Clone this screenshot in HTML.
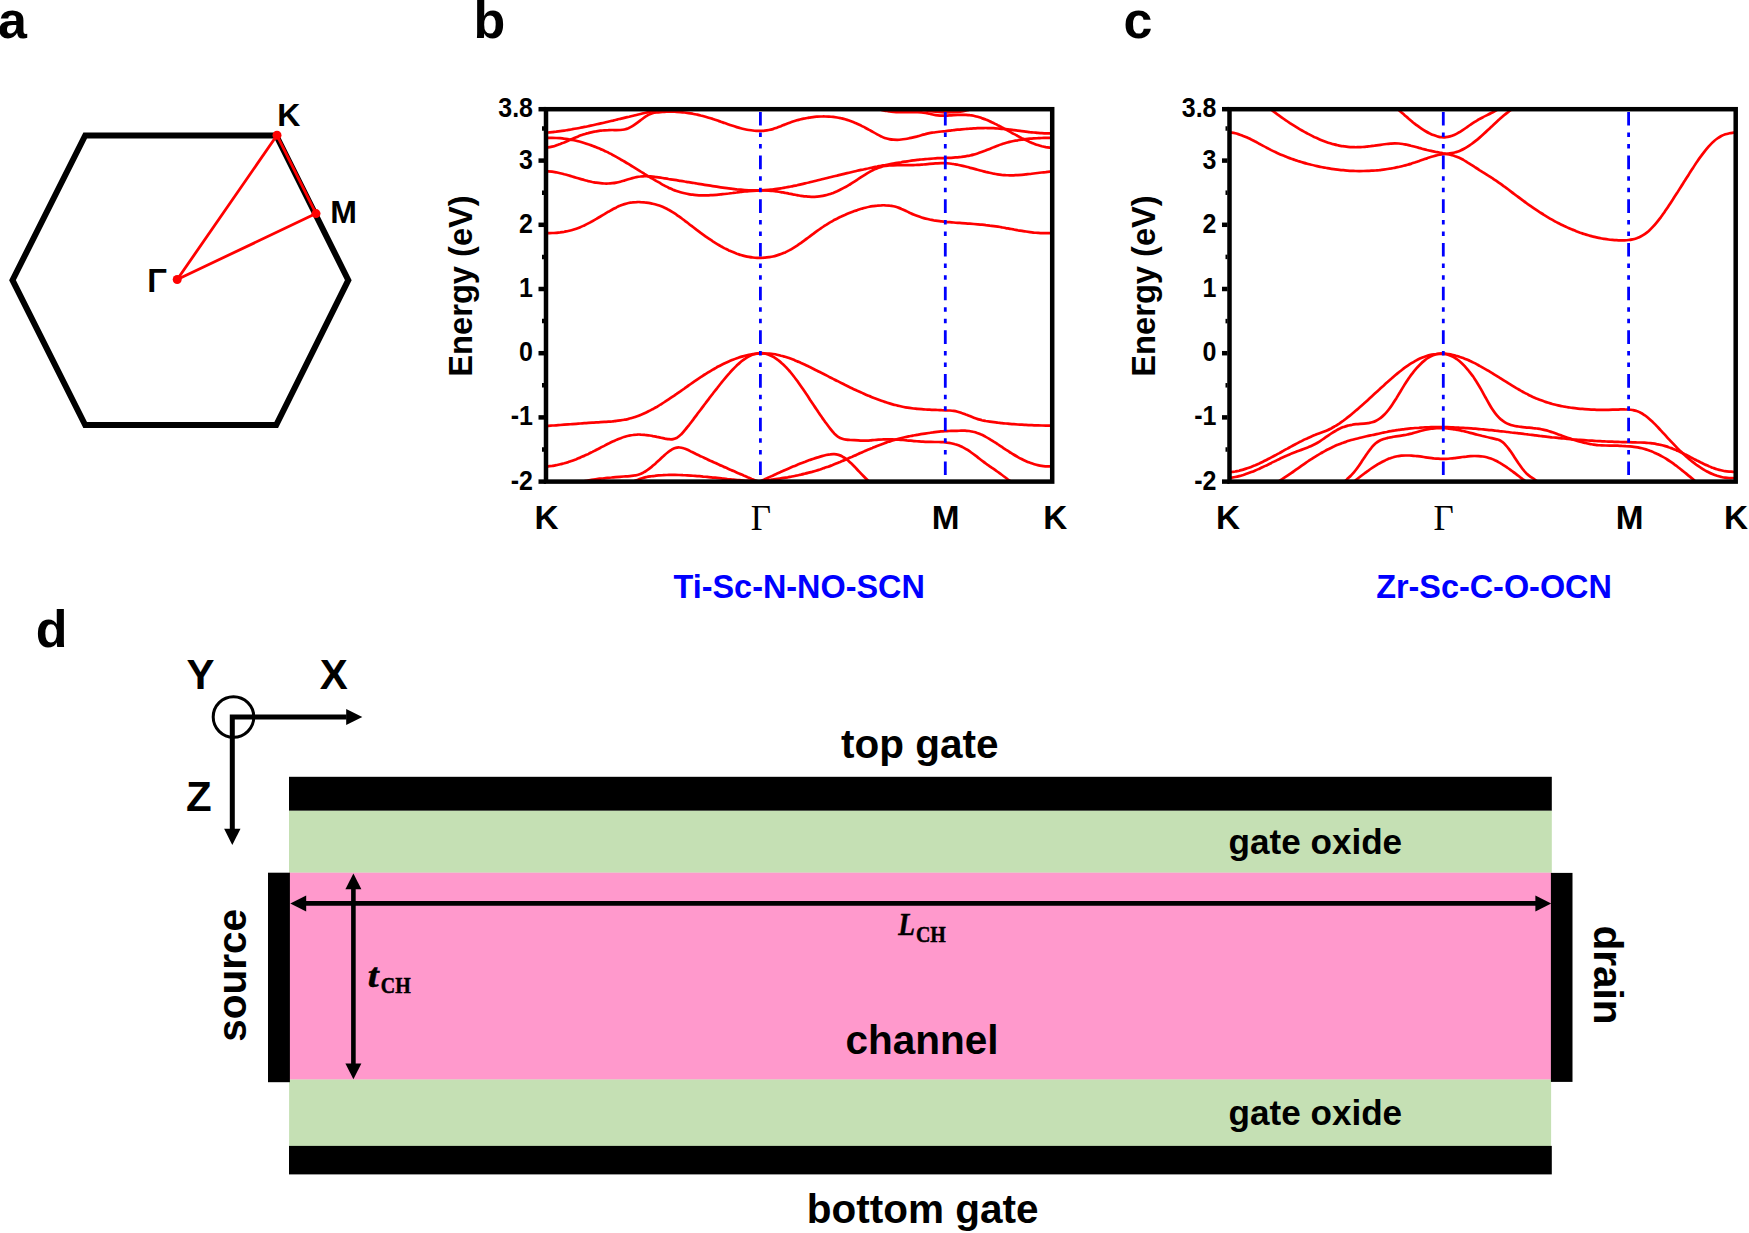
<!DOCTYPE html>
<html lang="en"><head><meta charset="utf-8"><title>Figure</title>
<style>
html,body{margin:0;padding:0;background:#fff;}
body{width:1749px;height:1233px;overflow:hidden;}
svg{display:block;}
text{font-family:"Liberation Sans", Arial, Helvetica, sans-serif;font-weight:bold;fill:#000;}
.ser{font-family:"Liberation Serif", "Times New Roman", Times, serif;}
.band{fill:none;stroke:#ff0000;stroke-width:2.7;stroke-linecap:round;stroke-linejoin:round;}
.hs{fill:none;stroke:#0000ff;stroke-width:2.8;stroke-dasharray:13.6 7.03 4.5 7.03 4.5 7.03;}
.fr{fill:none;stroke:#000;stroke-width:4.5;}
.tk{stroke:#000;stroke-width:4.5;}
.tl{font-size:25px;text-anchor:end;}
.kl{font-size:33.3px;text-anchor:middle;}
.cap{font-size:32.4px;text-anchor:middle;fill:#0000ff;}
.pl{font-size:52px;}
.dl{font-size:40.5px;text-anchor:middle;}
</style></head><body>
<svg width="1749" height="1233" viewBox="0 0 1749 1233">
<rect width="1749" height="1233" fill="#fff"/>
<text class="pl" x="-2" y="38">a</text>
<text class="pl" x="473.5" y="38">b</text>
<text class="pl" x="1123.6" y="38">c</text>
<text class="pl" x="35.8" y="646.5">d</text>
<polygon points="85.2,135.4 276.2,135.4 348.3,280.2 276.2,425.0 85.2,425.0 12.5,280.2" fill="none" stroke="#000" stroke-width="6" stroke-linejoin="miter"/>
<g stroke="#ff0000" stroke-width="2.8" fill="none" stroke-linecap="round">
<line x1="177.2" y1="279.5" x2="277.0" y2="135.3"/>
<line x1="177.2" y1="279.5" x2="316.0" y2="213.6"/>
<line x1="277.0" y1="135.3" x2="316.0" y2="213.6"/>
</g>
<circle cx="177.2" cy="279.5" r="4.5" fill="#ff0000"/>
<circle cx="277.0" cy="135.3" r="4.5" fill="#ff0000"/>
<circle cx="316.0" cy="213.6" r="4.5" fill="#ff0000"/>
<text x="277.2" y="126" font-size="32">K</text>
<text x="330.2" y="223.3" font-size="32">M</text>
<text x="147.2" y="292.3" font-size="32.5">Γ</text>
<clipPath id="cb"><rect x="546.0" y="109.2" width="506.2" height="372.4"/></clipPath>
<g clip-path="url(#cb)">
<path class="band" d="M548.2 233.2C548.8 233.2 550.8 233.1 552.2 233.0C553.5 233.0 554.9 232.9 556.2 232.8C557.5 232.7 558.9 232.5 560.2 232.4C561.6 232.2 562.9 232.0 564.2 231.8C565.6 231.5 566.9 231.3 568.2 231.0C569.6 230.7 570.9 230.4 572.3 230.0C573.6 229.6 574.9 229.2 576.3 228.7C577.6 228.3 579.0 227.8 580.3 227.2C581.6 226.7 583.0 226.0 584.3 225.4C585.6 224.8 587.0 224.1 588.3 223.4C589.7 222.7 591.0 221.9 592.3 221.2C593.7 220.4 595.0 219.6 596.4 218.9C597.7 218.1 599.0 217.3 600.4 216.5C601.7 215.7 603.0 214.9 604.4 214.1C605.7 213.3 607.1 212.5 608.4 211.7C609.7 211.0 611.1 210.2 612.4 209.5C613.8 208.8 615.1 208.0 616.4 207.4C617.8 206.7 619.1 206.1 620.4 205.6C621.8 205.0 623.1 204.5 624.5 204.1C625.8 203.7 627.1 203.3 628.5 203.0C629.8 202.7 631.1 202.5 632.5 202.4C633.8 202.2 635.2 202.1 636.5 202.1C637.8 202.0 639.2 202.0 640.5 202.1C641.9 202.1 643.2 202.2 644.5 202.4C645.9 202.5 647.2 202.7 648.5 202.9C649.9 203.1 651.2 203.4 652.6 203.7C653.9 204.0 655.2 204.3 656.6 204.7C657.9 205.1 659.3 205.5 660.6 206.0C661.9 206.5 663.3 207.1 664.6 207.7C665.9 208.3 667.3 209.0 668.6 209.8C670.0 210.5 671.3 211.3 672.6 212.1C674.0 213.0 675.3 213.9 676.7 214.8C678.0 215.7 679.3 216.7 680.7 217.7C682.0 218.6 683.3 219.7 684.7 220.7C686.0 221.7 687.4 222.7 688.7 223.7C690.0 224.8 691.4 225.8 692.7 226.8C694.1 227.9 695.4 228.9 696.7 229.9C698.1 230.9 699.4 231.9 700.7 232.9C702.1 233.9 703.4 234.8 704.8 235.8C706.1 236.7 707.4 237.7 708.8 238.6C710.1 239.5 711.5 240.4 712.8 241.3C714.1 242.1 715.5 243.0 716.8 243.8C718.1 244.6 719.5 245.4 720.8 246.2C722.2 246.9 723.5 247.7 724.8 248.4C726.2 249.1 727.5 249.7 728.8 250.4C730.2 251.0 731.5 251.6 732.9 252.1C734.2 252.7 735.5 253.2 736.9 253.7C738.2 254.1 739.6 254.6 740.9 255.0C742.2 255.4 743.6 255.8 744.9 256.1C746.2 256.4 747.6 256.7 748.9 256.9C750.3 257.2 751.6 257.4 752.9 257.5C754.3 257.7 755.6 257.8 757.0 257.8C758.3 257.9 759.6 257.9 761.0 257.9C762.3 257.9 763.6 257.8 765.0 257.7C766.3 257.6 767.7 257.4 769.0 257.2C770.3 257.0 771.7 256.8 773.0 256.5C774.4 256.2 775.7 255.8 777.0 255.4C778.4 255.0 779.7 254.6 781.0 254.1C782.4 253.6 783.7 253.0 785.1 252.4C786.4 251.8 787.7 251.1 789.1 250.4C790.4 249.7 791.8 248.9 793.1 248.1C794.4 247.3 795.8 246.4 797.1 245.6C798.4 244.7 799.8 243.7 801.1 242.8C802.5 241.8 803.8 240.9 805.1 239.9C806.5 238.9 807.8 237.9 809.2 236.9C810.5 235.9 811.8 234.9 813.2 233.9C814.5 232.9 815.8 231.9 817.2 230.9C818.5 230.0 819.9 229.0 821.2 228.1C822.5 227.2 823.9 226.3 825.2 225.4C826.6 224.6 827.9 223.7 829.2 222.9C830.6 222.1 831.9 221.4 833.2 220.6C834.6 219.9 835.9 219.2 837.3 218.5C838.6 217.8 839.9 217.1 841.3 216.5C842.6 215.9 843.9 215.3 845.3 214.7C846.6 214.1 848.0 213.5 849.3 213.0C850.6 212.5 852.0 212.0 853.3 211.5C854.7 211.0 856.0 210.5 857.3 210.1C858.7 209.6 860.0 209.2 861.3 208.8C862.7 208.4 864.0 208.0 865.4 207.7C866.7 207.4 868.0 207.1 869.4 206.8C870.7 206.5 872.1 206.3 873.4 206.1C874.7 205.9 876.1 205.7 877.4 205.6C878.7 205.4 880.1 205.3 881.4 205.3C882.8 205.2 884.1 205.2 885.4 205.3C886.8 205.3 888.1 205.4 889.5 205.6C890.8 205.7 892.1 205.9 893.5 206.2C894.8 206.5 896.1 206.9 897.5 207.3C898.8 207.8 900.2 208.3 901.5 208.9C902.8 209.4 904.2 210.1 905.5 210.7C906.9 211.4 908.2 212.0 909.5 212.7C910.9 213.3 912.2 214.0 913.5 214.5C914.9 215.1 916.2 215.6 917.6 216.1C918.9 216.6 920.2 217.1 921.6 217.5C922.9 217.9 924.3 218.3 925.6 218.6C926.9 218.9 928.3 219.2 929.6 219.5C930.9 219.8 932.3 220.0 933.6 220.3C935.0 220.5 936.3 220.7 937.6 220.9C939.0 221.1 940.3 221.2 941.7 221.4C943.0 221.6 944.3 221.7 945.7 221.8C947.0 222.0 948.3 222.1 949.7 222.2C951.0 222.3 952.4 222.4 953.7 222.5C955.0 222.7 956.4 222.8 957.7 222.8C959.0 222.9 960.4 223.0 961.7 223.1C963.1 223.2 964.4 223.3 965.7 223.4C967.1 223.5 968.4 223.6 969.8 223.7C971.1 223.8 972.4 223.9 973.8 224.0C975.1 224.1 976.4 224.2 977.8 224.3C979.1 224.4 980.5 224.5 981.8 224.7C983.1 224.8 984.5 224.9 985.8 225.1C987.2 225.2 988.5 225.4 989.8 225.6C991.2 225.7 992.5 225.9 993.8 226.1C995.2 226.3 996.5 226.5 997.9 226.7C999.2 226.9 1000.5 227.1 1001.9 227.4C1003.2 227.6 1004.6 227.8 1005.9 228.1C1007.2 228.3 1008.6 228.6 1009.9 228.8C1011.2 229.1 1012.6 229.3 1013.9 229.5C1015.3 229.8 1016.6 230.0 1017.9 230.3C1019.3 230.5 1020.6 230.7 1022.0 230.9C1023.3 231.1 1024.6 231.4 1026.0 231.5C1027.3 231.7 1028.6 231.9 1030.0 232.1C1031.3 232.3 1032.7 232.4 1034.0 232.6C1035.3 232.7 1036.7 232.8 1038.0 232.9C1039.4 233.0 1040.7 233.1 1042.0 233.1C1043.4 233.2 1044.7 233.2 1046.0 233.2C1047.4 233.2 1049.4 233.1 1050.1 233.1"/>
<path class="band" d="M548.1 171.3C548.8 171.3 550.8 171.5 552.1 171.7C553.5 171.9 554.8 172.1 556.1 172.3C557.5 172.6 558.8 172.9 560.2 173.2C561.5 173.5 562.8 173.8 564.2 174.2C565.5 174.5 566.8 174.9 568.2 175.3C569.5 175.7 570.9 176.1 572.2 176.5C573.5 176.9 574.9 177.3 576.2 177.7C577.5 178.1 578.9 178.5 580.2 178.9C581.6 179.3 582.9 179.6 584.2 180.0C585.6 180.4 586.9 180.7 588.2 181.1C589.6 181.4 590.9 181.7 592.3 182.0C593.6 182.2 594.9 182.5 596.3 182.7C597.6 182.9 598.9 183.1 600.3 183.2C601.6 183.4 603.0 183.5 604.3 183.5C605.6 183.6 607.0 183.6 608.3 183.5C609.6 183.5 611.0 183.4 612.3 183.2C613.7 183.1 615.0 182.9 616.3 182.6C617.7 182.4 619.0 182.1 620.3 181.7C621.7 181.4 623.0 181.0 624.4 180.6C625.7 180.2 627.0 179.7 628.4 179.3C629.7 178.9 631.1 178.5 632.4 178.1C633.7 177.7 635.1 177.4 636.4 177.1C637.7 176.8 639.1 176.6 640.4 176.5C641.8 176.3 643.1 176.3 644.4 176.2C645.8 176.2 647.1 176.3 648.4 176.3C649.8 176.4 651.1 176.5 652.5 176.6C653.8 176.8 655.1 176.9 656.5 177.1C657.8 177.3 659.1 177.5 660.5 177.7C661.8 177.9 663.2 178.1 664.5 178.3C665.8 178.5 667.2 178.7 668.5 179.0C669.8 179.2 671.2 179.4 672.5 179.6C673.9 179.8 675.2 180.0 676.5 180.2C677.9 180.4 679.2 180.7 680.5 180.9C681.9 181.1 683.2 181.3 684.6 181.5C685.9 181.7 687.2 182.0 688.6 182.2C689.9 182.4 691.2 182.6 692.6 182.8C693.9 183.1 695.3 183.3 696.6 183.5C697.9 183.7 699.3 183.9 700.6 184.1C702.0 184.4 703.3 184.6 704.6 184.8C706.0 185.0 707.3 185.2 708.6 185.4C710.0 185.7 711.3 185.9 712.7 186.1C714.0 186.3 715.3 186.5 716.7 186.7C718.0 186.9 719.3 187.1 720.7 187.3C722.0 187.5 723.4 187.7 724.7 187.9C726.0 188.1 727.4 188.3 728.7 188.4C730.0 188.6 731.4 188.8 732.7 188.9C734.1 189.1 735.4 189.2 736.7 189.4C738.1 189.5 739.4 189.6 740.7 189.7C742.1 189.9 743.4 190.0 744.8 190.0C746.1 190.1 747.4 190.2 748.8 190.3C750.1 190.3 751.4 190.4 752.8 190.4C754.1 190.4 755.5 190.4 756.8 190.4C758.1 190.4 759.5 190.4 760.8 190.3C762.1 190.3 763.5 190.2 764.8 190.1C766.2 190.0 767.5 189.9 768.8 189.8C770.2 189.7 771.5 189.5 772.9 189.4C774.2 189.2 775.5 189.1 776.9 188.9C778.2 188.7 779.5 188.5 780.9 188.3C782.2 188.1 783.6 187.9 784.9 187.6C786.2 187.4 787.6 187.2 788.9 186.9C790.2 186.6 791.6 186.4 792.9 186.1C794.3 185.8 795.6 185.5 796.9 185.3C798.3 185.0 799.6 184.7 800.9 184.4C802.3 184.1 803.6 183.8 805.0 183.4C806.3 183.1 807.6 182.8 809.0 182.5C810.3 182.2 811.6 181.8 813.0 181.5C814.3 181.2 815.7 180.8 817.0 180.5C818.3 180.2 819.7 179.8 821.0 179.5C822.3 179.2 823.7 178.8 825.0 178.5C826.4 178.2 827.7 177.9 829.0 177.5C830.4 177.2 831.7 176.9 833.1 176.5C834.4 176.2 835.7 175.9 837.1 175.6C838.4 175.2 839.7 174.9 841.1 174.6C842.4 174.3 843.8 173.9 845.1 173.6C846.4 173.3 847.8 173.0 849.1 172.7C850.4 172.4 851.8 172.1 853.1 171.8C854.5 171.5 855.8 171.1 857.1 170.8C858.5 170.5 859.8 170.2 861.1 169.9C862.5 169.7 863.8 169.4 865.2 169.1C866.5 168.8 867.8 168.5 869.2 168.2C870.5 167.9 871.8 167.7 873.2 167.4C874.5 167.1 875.9 166.8 877.2 166.6C878.5 166.3 879.9 166.1 881.2 165.8C882.5 165.6 883.9 165.3 885.2 165.1C886.6 164.8 887.9 164.6 889.2 164.3C890.6 164.1 891.9 163.9 893.2 163.6C894.6 163.4 895.9 163.2 897.3 162.9C898.6 162.7 899.9 162.5 901.3 162.3C902.6 162.0 904.0 161.8 905.3 161.6C906.6 161.4 908.0 161.2 909.3 161.0C910.6 160.8 912.0 160.6 913.3 160.4C914.7 160.2 916.0 160.0 917.3 159.9C918.7 159.8 920.0 159.6 921.3 159.5C922.7 159.4 924.0 159.3 925.4 159.2C926.7 159.1 928.0 158.9 929.4 158.8C930.7 158.7 932.0 158.6 933.4 158.5C934.7 158.4 936.1 158.3 937.4 158.2C938.7 158.2 940.1 158.1 941.4 158.1C942.7 158.1 944.1 158.0 945.4 158.0C946.8 157.9 948.1 157.9 949.4 157.8C950.8 157.8 952.1 157.7 953.4 157.6C954.8 157.5 956.1 157.4 957.5 157.3C958.8 157.2 960.1 157.0 961.5 156.9C962.8 156.7 964.1 156.5 965.5 156.3C966.8 156.1 968.2 155.8 969.5 155.6C970.8 155.3 972.2 155.0 973.5 154.6C974.9 154.3 976.2 153.9 977.5 153.5C978.9 153.1 980.2 152.6 981.5 152.1C982.9 151.6 984.2 151.1 985.6 150.6C986.9 150.0 988.2 149.5 989.6 148.9C990.9 148.4 992.2 147.8 993.6 147.3C994.9 146.8 996.3 146.2 997.6 145.7C998.9 145.2 1000.3 144.7 1001.6 144.3C1002.9 143.8 1004.3 143.4 1005.6 143.0C1007.0 142.6 1008.3 142.3 1009.6 141.9C1011.0 141.6 1012.3 141.3 1013.6 141.0C1015.0 140.7 1016.3 140.5 1017.7 140.3C1019.0 140.0 1020.3 139.8 1021.7 139.6C1023.0 139.4 1024.3 139.3 1025.7 139.1C1027.0 139.0 1028.4 138.8 1029.7 138.7C1031.0 138.6 1032.4 138.5 1033.7 138.4C1035.0 138.3 1036.4 138.2 1037.7 138.2C1039.1 138.1 1040.4 138.1 1041.7 138.0C1043.1 138.0 1044.4 137.9 1045.8 137.9C1047.1 137.8 1049.1 137.8 1049.8 137.8"/>
<path class="band" d="M548.1 137.9C548.8 137.9 550.8 137.8 552.1 137.8C553.5 137.8 554.8 137.9 556.1 138.0C557.5 138.0 558.8 138.1 560.2 138.2C561.5 138.4 562.8 138.5 564.2 138.7C565.5 138.8 566.8 139.0 568.2 139.2C569.5 139.5 570.9 139.7 572.2 140.0C573.5 140.2 574.9 140.5 576.2 140.8C577.5 141.1 578.9 141.5 580.2 141.8C581.6 142.2 582.9 142.6 584.2 143.0C585.6 143.4 586.9 143.8 588.2 144.3C589.6 144.7 590.9 145.2 592.3 145.7C593.6 146.2 594.9 146.7 596.3 147.2C597.6 147.8 598.9 148.3 600.3 148.9C601.6 149.5 603.0 150.1 604.3 150.7C605.6 151.3 607.0 152.0 608.3 152.6C609.6 153.3 611.0 154.0 612.3 154.7C613.7 155.4 615.0 156.1 616.3 156.9C617.7 157.6 619.0 158.4 620.3 159.2C621.7 159.9 623.0 160.7 624.4 161.5C625.7 162.3 627.0 163.1 628.4 163.9C629.7 164.8 631.1 165.6 632.4 166.4C633.7 167.2 635.1 168.1 636.4 168.9C637.7 169.7 639.1 170.6 640.4 171.4C641.8 172.2 643.1 173.1 644.4 173.9C645.8 174.7 647.1 175.5 648.4 176.3C649.8 177.1 651.1 177.9 652.5 178.7C653.8 179.5 655.1 180.3 656.5 181.1C657.8 181.8 659.1 182.6 660.5 183.3C661.8 184.1 663.2 184.9 664.5 185.6C665.8 186.3 667.2 187.0 668.5 187.7C669.8 188.3 671.2 188.9 672.5 189.5C673.9 190.1 675.2 190.6 676.5 191.0C677.9 191.5 679.2 191.9 680.5 192.3C681.9 192.7 683.2 193.0 684.6 193.3C685.9 193.6 687.2 193.9 688.6 194.1C689.9 194.4 691.2 194.5 692.6 194.7C693.9 194.9 695.3 195.0 696.6 195.1C697.9 195.2 699.3 195.3 700.6 195.3C702.0 195.3 703.3 195.4 704.6 195.4C706.0 195.3 707.3 195.3 708.6 195.3C710.0 195.2 711.3 195.2 712.7 195.1C714.0 195.0 715.3 194.9 716.7 194.8C718.0 194.7 719.3 194.5 720.7 194.4C722.0 194.3 723.4 194.1 724.7 194.0C726.0 193.8 727.4 193.6 728.7 193.5C730.0 193.3 731.4 193.1 732.7 193.0C734.1 192.8 735.4 192.6 736.7 192.5C738.1 192.3 739.4 192.1 740.7 192.0C742.1 191.8 743.4 191.7 744.8 191.5C746.1 191.4 747.4 191.3 748.8 191.1C750.1 191.0 751.4 190.9 752.8 190.8C754.1 190.7 755.5 190.6 756.8 190.6C758.1 190.5 759.5 190.5 760.8 190.5C762.1 190.4 763.5 190.4 764.8 190.5C766.2 190.5 767.5 190.5 768.8 190.6C770.2 190.7 771.5 190.8 772.9 191.0C774.2 191.1 775.5 191.3 776.9 191.4C778.2 191.6 779.5 191.9 780.9 192.1C782.2 192.3 783.6 192.6 784.9 192.8C786.2 193.1 787.6 193.3 788.9 193.6C790.2 193.8 791.6 194.1 792.9 194.4C794.3 194.6 795.6 194.9 796.9 195.1C798.3 195.3 799.6 195.6 800.9 195.8C802.3 196.0 803.6 196.1 805.0 196.3C806.3 196.4 807.6 196.6 809.0 196.6C810.3 196.7 811.6 196.8 813.0 196.8C814.3 196.8 815.7 196.7 817.0 196.6C818.3 196.5 819.7 196.4 821.0 196.2C822.3 196.0 823.7 195.7 825.0 195.4C826.4 195.1 827.7 194.7 829.0 194.3C830.4 193.9 831.7 193.4 833.1 192.9C834.4 192.4 835.7 191.9 837.1 191.3C838.4 190.7 839.7 190.0 841.1 189.3C842.4 188.7 843.8 188.0 845.1 187.2C846.4 186.5 847.8 185.7 849.1 184.9C850.4 184.1 851.8 183.3 853.1 182.4C854.5 181.6 855.8 180.7 857.1 179.8C858.5 179.0 859.8 178.1 861.1 177.2C862.5 176.3 863.8 175.5 865.2 174.6C866.5 173.8 867.8 173.0 869.2 172.2C870.5 171.4 871.8 170.7 873.2 170.0C874.5 169.4 875.9 168.8 877.2 168.2C878.5 167.7 879.9 167.3 881.2 166.9C882.5 166.5 883.9 166.2 885.2 166.0C886.6 165.8 887.9 165.6 889.2 165.5C890.6 165.4 891.9 165.3 893.2 165.3C894.6 165.2 895.9 165.2 897.3 165.2C898.6 165.2 899.9 165.2 901.3 165.2C902.6 165.2 904.0 165.2 905.3 165.2C906.6 165.2 908.0 165.2 909.3 165.2C910.6 165.2 912.0 165.1 913.3 165.1C914.7 165.0 916.0 165.0 917.3 164.9C918.7 164.8 920.0 164.8 921.3 164.7C922.7 164.6 924.0 164.4 925.4 164.3C926.7 164.2 928.0 164.1 929.4 163.9C930.7 163.8 932.0 163.7 933.4 163.6C934.7 163.5 936.1 163.4 937.4 163.3C938.7 163.2 940.1 163.2 941.4 163.2C942.7 163.2 944.1 163.2 945.4 163.2C946.8 163.3 948.1 163.4 949.4 163.5C950.8 163.7 952.1 163.8 953.4 164.0C954.8 164.2 956.1 164.5 957.5 164.7C958.8 165.0 960.1 165.3 961.5 165.6C962.8 165.9 964.1 166.2 965.5 166.5C966.8 166.9 968.2 167.2 969.5 167.6C970.8 167.9 972.2 168.3 973.5 168.6C974.9 169.0 976.2 169.4 977.5 169.7C978.9 170.1 980.2 170.5 981.5 170.8C982.9 171.2 984.2 171.5 985.6 171.9C986.9 172.2 988.2 172.5 989.6 172.8C990.9 173.1 992.2 173.4 993.6 173.7C994.9 173.9 996.3 174.1 997.6 174.3C998.9 174.5 1000.3 174.7 1001.6 174.9C1002.9 175.0 1004.3 175.1 1005.6 175.2C1007.0 175.2 1008.3 175.3 1009.6 175.3C1011.0 175.3 1012.3 175.3 1013.6 175.3C1015.0 175.2 1016.3 175.2 1017.7 175.1C1019.0 175.0 1020.3 174.9 1021.7 174.8C1023.0 174.7 1024.3 174.6 1025.7 174.4C1027.0 174.3 1028.4 174.1 1029.7 174.0C1031.0 173.8 1032.4 173.7 1033.7 173.5C1035.0 173.4 1036.4 173.2 1037.7 173.0C1039.1 172.9 1040.4 172.7 1041.7 172.5C1043.1 172.4 1044.4 172.2 1045.8 172.1C1047.1 171.9 1049.1 171.7 1049.8 171.7"/>
<path class="band" d="M548.1 147.4C548.8 147.3 550.8 146.9 552.1 146.6C553.5 146.3 554.8 145.9 556.1 145.4C557.5 145.0 558.8 144.5 560.2 144.0C561.5 143.5 562.8 142.9 564.2 142.4C565.5 141.8 566.8 141.2 568.2 140.7C569.5 140.1 570.9 139.5 572.2 138.9C573.5 138.3 574.9 137.7 576.2 137.2C577.5 136.7 578.9 136.1 580.2 135.6C581.6 135.1 582.9 134.7 584.2 134.2C585.6 133.8 586.9 133.4 588.2 133.1C589.6 132.7 590.9 132.4 592.3 132.1C593.6 131.8 594.9 131.6 596.3 131.3C597.6 131.1 598.9 130.9 600.3 130.7C601.6 130.6 603.0 130.4 604.3 130.3C605.6 130.2 607.0 130.1 608.3 130.1C609.6 130.0 611.0 130.0 612.3 130.0C613.7 130.0 615.0 130.1 616.3 130.1C617.7 130.1 619.0 130.1 620.3 130.0C621.7 129.9 623.0 129.8 624.4 129.5C625.7 129.2 627.0 128.9 628.4 128.3C629.7 127.7 631.1 127.0 632.4 126.2C633.7 125.4 635.1 124.4 636.4 123.4C637.7 122.5 639.1 121.4 640.4 120.4C641.8 119.4 643.1 118.3 644.4 117.4C645.8 116.5 647.1 115.6 648.4 114.9C649.8 114.2 651.1 113.7 652.5 113.3C653.8 112.9 655.1 112.7 656.5 112.5C657.8 112.3 659.1 112.2 660.5 112.1C661.8 112.0 663.2 111.9 664.5 111.8C665.8 111.8 667.2 111.7 668.5 111.7C669.8 111.7 671.2 111.7 672.5 111.7C673.9 111.7 675.2 111.8 676.5 111.8C677.9 111.9 679.2 112.0 680.5 112.1C681.9 112.2 683.2 112.4 684.6 112.5C685.9 112.7 687.2 112.9 688.6 113.1C689.9 113.3 691.2 113.5 692.6 113.7C693.9 114.0 695.3 114.3 696.6 114.5C697.9 114.8 699.3 115.1 700.6 115.5C702.0 115.8 703.3 116.1 704.6 116.5C706.0 116.9 707.3 117.3 708.6 117.7C710.0 118.1 711.3 118.5 712.7 118.9C714.0 119.4 715.3 119.8 716.7 120.3C718.0 120.8 719.3 121.2 720.7 121.7C722.0 122.2 723.4 122.6 724.7 123.1C726.0 123.6 727.4 124.0 728.7 124.5C730.0 125.0 731.4 125.4 732.7 125.8C734.1 126.3 735.4 126.7 736.7 127.1C738.1 127.5 739.4 127.9 740.7 128.2C742.1 128.6 743.4 128.9 744.8 129.2C746.1 129.5 747.4 129.8 748.8 130.0C750.1 130.2 751.4 130.4 752.8 130.5C754.1 130.7 755.5 130.8 756.8 130.9C758.1 130.9 759.5 130.9 760.8 130.9C762.1 130.9 763.5 130.8 764.8 130.6C766.2 130.5 767.5 130.3 768.8 130.0C770.2 129.8 771.5 129.5 772.9 129.1C774.2 128.7 775.5 128.2 776.9 127.7C778.2 127.3 779.5 126.7 780.9 126.2C782.2 125.6 783.6 125.1 784.9 124.5C786.2 124.0 787.6 123.4 788.9 122.9C790.2 122.4 791.6 122.0 792.9 121.5C794.3 121.1 795.6 120.7 796.9 120.3C798.3 119.9 799.6 119.6 800.9 119.2C802.3 118.9 803.6 118.6 805.0 118.4C806.3 118.1 807.6 117.9 809.0 117.6C810.3 117.4 811.6 117.3 813.0 117.1C814.3 116.9 815.7 116.8 817.0 116.7C818.3 116.6 819.7 116.5 821.0 116.5C822.3 116.5 823.7 116.4 825.0 116.5C826.4 116.5 827.7 116.5 829.0 116.6C830.4 116.7 831.7 116.8 833.1 116.9C834.4 117.1 835.7 117.3 837.1 117.5C838.4 117.7 839.7 118.0 841.1 118.3C842.4 118.6 843.8 118.9 845.1 119.3C846.4 119.7 847.8 120.1 849.1 120.5C850.4 121.0 851.8 121.5 853.1 122.0C854.5 122.6 855.8 123.1 857.1 123.7C858.5 124.4 859.8 125.0 861.1 125.6C862.5 126.3 863.8 127.0 865.2 127.7C866.5 128.4 867.8 129.1 869.2 129.9C870.5 130.6 871.8 131.4 873.2 132.1C874.5 132.8 875.9 133.6 877.2 134.4C878.5 135.1 879.9 135.8 881.2 136.4C882.5 137.1 883.9 137.6 885.2 138.1C886.6 138.5 887.9 138.9 889.2 139.1C890.6 139.4 891.9 139.6 893.2 139.7C894.6 139.8 895.9 139.8 897.3 139.8C898.6 139.8 899.9 139.7 901.3 139.5C902.6 139.4 904.0 139.2 905.3 139.0C906.6 138.8 908.0 138.5 909.3 138.2C910.6 138.0 912.0 137.7 913.3 137.4C914.7 137.1 916.0 136.7 917.3 136.4C918.7 136.0 920.0 135.6 921.3 135.2C922.7 134.9 924.0 134.4 925.4 134.1C926.7 133.7 928.0 133.4 929.4 133.1C930.7 132.8 932.0 132.7 933.4 132.5C934.7 132.3 936.1 132.2 937.4 132.0C938.7 131.9 940.1 131.7 941.4 131.5C942.7 131.4 944.1 131.2 945.4 131.1C946.8 130.9 948.1 130.8 949.4 130.6C950.8 130.5 952.1 130.3 953.4 130.2C954.8 130.0 956.1 129.9 957.5 129.7C958.8 129.6 960.1 129.5 961.5 129.3C962.8 129.2 964.1 129.1 965.5 129.0C966.8 128.9 968.2 128.7 969.5 128.7C970.8 128.6 972.2 128.5 973.5 128.4C974.9 128.3 976.2 128.3 977.5 128.2C978.9 128.2 980.2 128.1 981.5 128.1C982.9 128.1 984.2 128.0 985.6 128.0C986.9 128.0 988.2 128.1 989.6 128.1C990.9 128.1 992.2 128.2 993.6 128.2C994.9 128.3 996.3 128.4 997.6 128.5C998.9 128.6 1000.3 128.7 1001.6 128.8C1002.9 128.9 1004.3 129.1 1005.6 129.2C1007.0 129.3 1008.3 129.5 1009.6 129.6C1011.0 129.8 1012.3 130.0 1013.6 130.1C1015.0 130.3 1016.3 130.5 1017.7 130.6C1019.0 130.8 1020.3 131.0 1021.7 131.1C1023.0 131.3 1024.3 131.5 1025.7 131.6C1027.0 131.8 1028.4 131.9 1029.7 132.1C1031.0 132.2 1032.4 132.4 1033.7 132.5C1035.0 132.6 1036.4 132.8 1037.7 132.9C1039.1 133.0 1040.4 133.1 1041.7 133.1C1043.1 133.2 1044.4 133.3 1045.8 133.3C1047.1 133.4 1049.1 133.4 1049.8 133.4"/>
<path class="band" d="M548.1 132.5C548.8 132.5 550.8 132.3 552.2 132.1C553.5 132.0 554.9 131.8 556.2 131.7C557.6 131.5 558.9 131.3 560.3 131.1C561.6 131.0 563.0 130.8 564.3 130.6C565.7 130.4 567.0 130.1 568.4 129.9C569.7 129.7 571.1 129.5 572.4 129.2C573.8 129.0 575.1 128.8 576.5 128.5C577.8 128.3 579.2 128.0 580.6 127.7C581.9 127.5 583.3 127.2 584.6 126.9C586.0 126.7 587.3 126.4 588.7 126.1C590.0 125.8 591.4 125.5 592.7 125.2C594.1 124.9 595.4 124.6 596.8 124.3C598.1 124.0 599.5 123.7 600.8 123.4C602.2 123.1 603.5 122.8 604.9 122.5C606.2 122.2 607.6 121.8 608.9 121.5C610.3 121.2 611.6 120.9 613.0 120.6C614.3 120.2 615.7 119.9 617.0 119.6C618.4 119.3 619.8 118.9 621.1 118.6C622.5 118.3 623.8 118.0 625.2 117.6C626.5 117.3 627.9 117.0 629.2 116.7C630.6 116.3 631.9 116.0 633.3 115.7C634.6 115.4 636.0 115.0 637.3 114.7C638.7 114.4 640.0 114.1 641.4 113.8C642.7 113.5 644.1 113.1 645.4 112.8C646.8 112.5 648.1 112.2 649.5 111.9C650.8 111.6 652.2 111.3 653.5 111.0C654.9 110.7 656.2 110.5 657.6 110.2C659.0 109.9 660.3 109.6 661.7 109.3C663.0 109.1 665.0 108.7 665.7 108.6"/>
<path class="band" d="M877.6 108.7C878.3 108.9 880.3 109.6 881.6 109.9C882.9 110.3 884.3 110.6 885.6 110.8C886.9 111.1 888.3 111.3 889.6 111.5C891.0 111.7 892.3 111.8 893.6 111.9C895.0 112.0 896.3 112.1 897.6 112.1C899.0 112.2 900.3 112.2 901.6 112.2C903.0 112.2 904.3 112.2 905.6 112.2C907.0 112.2 908.3 112.2 909.6 112.2C911.0 112.2 912.3 112.1 913.6 112.1C915.0 112.1 916.3 112.1 917.6 112.2C919.0 112.2 920.3 112.3 921.6 112.4C923.0 112.5 924.3 112.7 925.6 112.9C927.0 113.1 928.3 113.5 929.7 113.8C931.0 114.1 932.3 114.5 933.7 114.8C935.0 115.1 936.3 115.3 937.7 115.4C939.0 115.5 940.3 115.6 941.7 115.6C943.0 115.7 944.3 115.7 945.7 115.6C947.0 115.6 948.3 115.5 949.7 115.4C951.0 115.4 952.3 115.3 953.7 115.2C955.0 115.1 956.3 115.0 957.7 114.9C959.0 114.9 960.3 114.8 961.7 114.8C963.0 114.8 964.4 114.8 965.7 114.8C967.0 114.9 968.4 115.0 969.7 115.2C971.0 115.3 972.4 115.5 973.7 115.8C975.0 116.1 976.4 116.4 977.7 116.8C979.0 117.2 980.4 117.6 981.7 118.1C983.0 118.5 984.4 119.0 985.7 119.6C987.0 120.1 988.4 120.7 989.7 121.3C991.0 121.9 992.4 122.5 993.7 123.1C995.0 123.8 996.4 124.5 997.7 125.2C999.1 125.8 1000.4 126.6 1001.7 127.3C1003.1 128.0 1004.4 128.7 1005.7 129.4C1007.1 130.2 1008.4 130.9 1009.7 131.6C1011.1 132.4 1012.4 133.1 1013.7 133.9C1015.1 134.6 1016.4 135.3 1017.7 136.0C1019.1 136.7 1020.4 137.4 1021.7 138.1C1023.1 138.8 1024.4 139.4 1025.7 140.1C1027.1 140.7 1028.4 141.3 1029.7 141.9C1031.1 142.5 1032.4 143.1 1033.7 143.6C1035.1 144.1 1036.4 144.6 1037.8 145.0C1039.1 145.4 1040.4 145.8 1041.8 146.2C1043.1 146.5 1044.4 146.8 1045.8 147.1C1047.1 147.3 1049.1 147.6 1049.8 147.7"/>
<path class="band" d="M923.0 109.6C924.7 109.9 929.1 111.1 932.8 111.5C936.5 112.0 940.7 112.3 945.3 112.4C949.9 112.4 956.5 112.1 960.3 111.7C964.2 111.3 967.1 110.2 968.5 109.9"/>
<path class="band" d="M548.2 425.8C548.8 425.7 550.8 425.6 552.2 425.5C553.5 425.5 554.9 425.4 556.2 425.3C557.5 425.2 558.9 425.1 560.2 425.0C561.6 424.9 562.9 424.8 564.2 424.7C565.6 424.6 566.9 424.5 568.2 424.4C569.6 424.3 570.9 424.2 572.3 424.1C573.6 424.0 574.9 423.9 576.3 423.8C577.6 423.7 579.0 423.6 580.3 423.5C581.6 423.4 583.0 423.3 584.3 423.2C585.6 423.1 587.0 423.0 588.3 422.9C589.7 422.8 591.0 422.7 592.3 422.6C593.7 422.6 595.0 422.5 596.4 422.4C597.7 422.3 599.0 422.3 600.4 422.2C601.7 422.1 603.0 422.0 604.4 421.9C605.7 421.9 607.1 421.8 608.4 421.7C609.7 421.6 611.1 421.5 612.4 421.4C613.8 421.2 615.1 421.1 616.4 420.9C617.8 420.8 619.1 420.6 620.4 420.4C621.8 420.2 623.1 420.0 624.5 419.7C625.8 419.5 627.1 419.2 628.5 418.9C629.8 418.5 631.1 418.2 632.5 417.8C633.8 417.4 635.2 417.0 636.5 416.5C637.8 416.1 639.2 415.6 640.5 415.0C641.9 414.5 643.2 413.9 644.5 413.3C645.9 412.7 647.2 412.0 648.5 411.3C649.9 410.7 651.2 410.0 652.6 409.2C653.9 408.5 655.2 407.7 656.6 407.0C657.9 406.2 659.3 405.4 660.6 404.5C661.9 403.7 663.3 402.9 664.6 402.0C665.9 401.1 667.3 400.3 668.6 399.4C670.0 398.5 671.3 397.6 672.6 396.7C674.0 395.8 675.3 394.8 676.7 393.9C678.0 393.0 679.3 392.0 680.7 391.1C682.0 390.1 683.3 389.2 684.7 388.3C686.0 387.3 687.4 386.4 688.7 385.4C690.0 384.5 691.4 383.5 692.7 382.6C694.1 381.7 695.4 380.8 696.7 379.9C698.1 378.9 699.4 378.0 700.7 377.2C702.1 376.3 703.4 375.4 704.8 374.5C706.1 373.7 707.4 372.8 708.8 372.0C710.1 371.2 711.5 370.4 712.8 369.6C714.1 368.8 715.5 368.1 716.8 367.3C718.1 366.6 719.5 365.9 720.8 365.2C722.2 364.5 723.5 363.9 724.8 363.2C726.2 362.6 727.5 362.0 728.8 361.4C730.2 360.8 731.5 360.3 732.9 359.7C734.2 359.2 735.5 358.7 736.9 358.2C738.2 357.8 739.6 357.3 740.9 356.9C742.2 356.5 743.6 356.2 744.9 355.8C746.2 355.5 747.6 355.2 748.9 354.9C750.3 354.6 751.6 354.4 752.9 354.2C754.3 354.0 755.6 353.8 757.0 353.7C758.3 353.6 759.6 353.5 761.0 353.4C762.3 353.4 763.6 353.3 765.0 353.4C766.3 353.4 767.7 353.5 769.0 353.6C770.3 353.7 771.7 353.8 773.0 354.0C774.4 354.2 775.7 354.4 777.0 354.7C778.4 355.0 779.7 355.3 781.0 355.7C782.4 356.0 783.7 356.4 785.1 356.8C786.4 357.2 787.7 357.6 789.1 358.1C790.4 358.6 791.8 359.1 793.1 359.6C794.4 360.1 795.8 360.7 797.1 361.2C798.4 361.8 799.8 362.4 801.1 363.0C802.5 363.6 803.8 364.2 805.1 364.8C806.5 365.5 807.8 366.1 809.2 366.8C810.5 367.4 811.8 368.1 813.2 368.7C814.5 369.4 815.8 370.1 817.2 370.7C818.5 371.4 819.9 372.1 821.2 372.8C822.5 373.4 823.9 374.1 825.2 374.8C826.6 375.5 827.9 376.2 829.2 376.9C830.6 377.5 831.9 378.2 833.2 378.9C834.6 379.6 835.9 380.3 837.3 380.9C838.6 381.6 839.9 382.3 841.3 383.0C842.6 383.6 843.9 384.3 845.3 385.0C846.6 385.6 848.0 386.3 849.3 387.0C850.6 387.6 852.0 388.3 853.3 388.9C854.7 389.5 856.0 390.2 857.3 390.8C858.7 391.4 860.0 392.0 861.3 392.6C862.7 393.2 864.0 393.8 865.4 394.4C866.7 395.0 868.0 395.6 869.4 396.1C870.7 396.7 872.1 397.2 873.4 397.8C874.7 398.3 876.1 398.8 877.4 399.3C878.7 399.8 880.1 400.3 881.4 400.8C882.8 401.3 884.1 401.7 885.4 402.1C886.8 402.6 888.1 403.0 889.5 403.4C890.8 403.8 892.1 404.2 893.5 404.6C894.8 404.9 896.1 405.3 897.5 405.6C898.8 405.9 900.2 406.2 901.5 406.5C902.8 406.8 904.2 407.1 905.5 407.3C906.9 407.5 908.2 407.7 909.5 407.9C910.9 408.1 912.2 408.3 913.5 408.5C914.9 408.6 916.2 408.8 917.6 408.9C918.9 409.0 920.2 409.1 921.6 409.2C922.9 409.3 924.3 409.4 925.6 409.5C926.9 409.6 928.3 409.6 929.6 409.7C930.9 409.8 932.3 409.8 933.6 409.9C935.0 409.9 936.3 410.0 937.6 410.0C939.0 410.1 940.3 410.1 941.7 410.2C943.0 410.2 944.3 410.2 945.7 410.3C947.0 410.3 948.3 410.4 949.7 410.5C951.0 410.6 952.4 410.7 953.7 410.9C955.0 411.1 956.4 411.4 957.7 411.7C959.0 412.1 960.4 412.5 961.7 413.0C963.1 413.4 964.4 414.0 965.7 414.5C967.1 415.0 968.4 415.6 969.8 416.1C971.1 416.7 972.4 417.2 973.8 417.7C975.1 418.2 976.4 418.7 977.8 419.1C979.1 419.5 980.5 419.8 981.8 420.2C983.1 420.5 984.5 420.7 985.8 421.0C987.2 421.2 988.5 421.4 989.8 421.6C991.2 421.8 992.5 422.0 993.8 422.2C995.2 422.4 996.5 422.5 997.9 422.7C999.2 422.8 1000.5 423.0 1001.9 423.1C1003.2 423.3 1004.6 423.4 1005.9 423.5C1007.2 423.6 1008.6 423.8 1009.9 423.9C1011.2 424.0 1012.6 424.1 1013.9 424.2C1015.3 424.3 1016.6 424.4 1017.9 424.5C1019.3 424.6 1020.6 424.6 1022.0 424.7C1023.3 424.8 1024.6 424.9 1026.0 424.9C1027.3 425.0 1028.6 425.1 1030.0 425.1C1031.3 425.2 1032.7 425.2 1034.0 425.3C1035.3 425.3 1036.7 425.4 1038.0 425.4C1039.4 425.5 1040.7 425.5 1042.0 425.5C1043.4 425.6 1044.7 425.6 1046.0 425.6C1047.4 425.7 1049.4 425.7 1050.1 425.7"/>
<path class="band" d="M548.2 466.3C548.8 466.2 550.9 466.0 552.2 465.9C553.5 465.7 554.9 465.4 556.2 465.2C557.6 464.9 558.9 464.6 560.3 464.3C561.6 464.0 562.9 463.6 564.3 463.3C565.6 462.9 567.0 462.5 568.3 462.1C569.7 461.6 571.0 461.2 572.3 460.7C573.7 460.2 575.0 459.7 576.4 459.2C577.7 458.6 579.1 458.1 580.4 457.5C581.7 456.9 583.1 456.3 584.4 455.7C585.8 455.1 587.1 454.5 588.5 453.9C589.8 453.2 591.1 452.6 592.5 451.9C593.8 451.2 595.2 450.5 596.5 449.8C597.9 449.1 599.2 448.4 600.5 447.7C601.9 447.0 603.2 446.3 604.6 445.6C605.9 444.9 607.3 444.2 608.6 443.6C609.9 442.9 611.3 442.2 612.6 441.6C614.0 441.0 615.3 440.4 616.7 439.8C618.0 439.2 619.3 438.7 620.7 438.2C622.0 437.7 623.4 437.2 624.7 436.8C626.1 436.4 627.4 436.0 628.7 435.7C630.1 435.4 631.4 435.1 632.8 435.0C634.1 434.8 635.5 434.6 636.8 434.6C638.1 434.5 639.5 434.5 640.8 434.6C642.2 434.6 643.5 434.7 644.9 434.9C646.2 435.0 647.5 435.2 648.9 435.4C650.2 435.6 651.6 435.8 652.9 436.1C654.3 436.3 655.6 436.6 656.9 436.9C658.3 437.1 659.6 437.4 661.0 437.7C662.3 438.0 663.7 438.3 665.0 438.6C666.3 438.8 667.7 439.1 669.0 439.2C670.4 439.3 671.7 439.4 673.1 439.1C674.4 438.8 675.7 438.4 677.1 437.7C678.4 436.9 679.8 435.7 681.1 434.4C682.5 433.1 683.8 431.4 685.1 429.8C686.5 428.2 687.8 426.5 689.2 424.8C690.5 423.1 691.9 421.3 693.2 419.6C694.5 417.8 695.9 416.0 697.2 414.2C698.6 412.4 699.9 410.6 701.3 408.8C702.6 407.1 703.9 405.3 705.3 403.5C706.6 401.7 708.0 400.0 709.3 398.2C710.7 396.5 712.0 394.7 713.3 393.0C714.7 391.2 716.0 389.5 717.4 387.8C718.7 386.1 720.1 384.4 721.4 382.7C722.7 381.1 724.1 379.4 725.4 377.8C726.8 376.2 728.1 374.6 729.5 373.1C730.8 371.6 732.1 370.2 733.5 368.8C734.8 367.4 736.2 366.1 737.5 364.8C738.9 363.6 740.2 362.4 741.5 361.3C742.9 360.2 744.2 359.2 745.6 358.3C746.9 357.4 748.3 356.6 749.6 356.0C750.9 355.3 752.3 354.7 753.6 354.3C755.0 353.9 756.3 353.6 757.7 353.4C759.0 353.2 760.3 353.2 761.7 353.2C763.0 353.3 764.4 353.5 765.7 353.8C767.1 354.2 768.4 354.6 769.8 355.2C771.1 355.7 772.4 356.4 773.8 357.2C775.1 358.0 776.5 358.9 777.8 359.9C779.2 360.9 780.5 362.0 781.8 363.2C783.2 364.4 784.5 365.7 785.9 367.1C787.2 368.5 788.6 370.0 789.9 371.5C791.2 373.1 792.6 374.8 793.9 376.5C795.3 378.3 796.6 380.1 798.0 381.9C799.3 383.8 800.6 385.7 802.0 387.7C803.3 389.6 804.7 391.6 806.0 393.6C807.4 395.6 808.7 397.6 810.0 399.7C811.4 401.7 812.7 403.7 814.1 405.7C815.4 407.8 816.8 409.8 818.1 411.8C819.4 413.7 820.8 415.7 822.1 417.6C823.5 419.5 824.8 421.4 826.2 423.3C827.5 425.1 828.8 426.9 830.2 428.6C831.5 430.3 832.9 432.0 834.2 433.4C835.6 434.7 836.9 435.9 838.2 436.8C839.6 437.7 840.9 438.3 842.3 438.8C843.6 439.3 845.0 439.5 846.3 439.7C847.6 439.9 849.0 439.9 850.3 440.0C851.7 440.0 853.0 440.0 854.4 440.1C855.7 440.2 857.0 440.3 858.4 440.4C859.7 440.5 861.1 440.6 862.4 440.7C863.8 440.7 865.1 440.7 866.4 440.7C867.8 440.6 869.1 440.5 870.5 440.4C871.8 440.3 873.2 440.1 874.5 440.0C875.8 439.9 877.2 439.7 878.5 439.6C879.9 439.5 881.2 439.4 882.6 439.4C883.9 439.3 885.2 439.3 886.6 439.3C887.9 439.3 889.3 439.3 890.6 439.3C892.0 439.4 893.3 439.4 894.6 439.5C896.0 439.6 897.3 439.6 898.7 439.7C900.0 439.8 901.4 439.9 902.7 440.0C904.0 440.1 905.4 440.2 906.7 440.4C908.1 440.5 909.4 440.6 910.8 440.7C912.1 440.8 913.4 441.0 914.8 441.1C916.1 441.2 917.5 441.3 918.8 441.4C920.2 441.5 921.5 441.6 922.8 441.6C924.2 441.7 925.5 441.8 926.9 441.8C928.2 441.9 929.6 441.9 930.9 441.9C932.2 441.9 933.6 441.9 934.9 442.0C936.3 442.0 937.6 442.0 939.0 442.0C940.3 442.1 941.6 442.1 943.0 442.2C944.3 442.3 945.7 442.4 947.0 442.6C948.4 442.7 949.7 442.9 951.0 443.2C952.4 443.5 953.7 443.8 955.1 444.2C956.4 444.5 957.8 445.0 959.1 445.5C960.4 446.1 961.8 446.7 963.1 447.4C964.5 448.1 965.8 448.9 967.2 449.7C968.5 450.6 969.8 451.5 971.2 452.5C972.5 453.4 973.9 454.4 975.2 455.4C976.6 456.4 977.9 457.5 979.2 458.5C980.6 459.6 981.9 460.6 983.3 461.6C984.6 462.6 986.0 463.6 987.3 464.6C988.6 465.5 990.0 466.4 991.3 467.4C992.7 468.3 994.0 469.2 995.4 470.2C996.7 471.1 998.0 472.1 999.4 473.0C1000.7 474.0 1002.1 475.0 1003.4 476.0C1004.8 477.0 1006.1 478.0 1007.4 479.0C1008.8 480.0 1010.1 481.0 1011.5 482.0C1012.8 483.0 1014.8 484.4 1015.5 484.9"/>
<path class="band" d="M583.5 481.3C584.2 481.2 586.2 480.8 587.5 480.6C588.9 480.3 590.2 480.1 591.5 479.9C592.9 479.7 594.2 479.5 595.5 479.3C596.9 479.1 598.2 478.9 599.5 478.7C600.9 478.6 602.2 478.4 603.5 478.3C604.9 478.1 606.2 478.0 607.5 477.8C608.9 477.7 610.2 477.6 611.5 477.5C612.9 477.3 614.2 477.2 615.6 477.1C616.9 477.0 618.2 476.9 619.6 476.8C620.9 476.7 622.2 476.6 623.6 476.5C624.9 476.4 626.2 476.4 627.6 476.3C628.9 476.2 630.2 476.1 631.6 475.9C632.9 475.8 634.2 475.6 635.6 475.3C636.9 475.1 638.2 474.7 639.6 474.2C640.9 473.8 642.2 473.1 643.6 472.4C644.9 471.7 646.2 470.8 647.6 469.9C648.9 469.0 650.2 468.0 651.6 466.9C652.9 465.8 654.2 464.6 655.6 463.4C656.9 462.3 658.2 461.0 659.6 459.8C660.9 458.5 662.2 457.2 663.6 456.0C664.9 454.8 666.2 453.5 667.6 452.5C668.9 451.4 670.2 450.4 671.6 449.7C672.9 448.9 674.2 448.2 675.6 447.9C676.9 447.5 678.2 447.4 679.6 447.5C680.9 447.6 682.2 447.9 683.6 448.3C684.9 448.6 686.2 449.2 687.6 449.8C688.9 450.4 690.2 451.1 691.6 451.8C692.9 452.4 694.3 453.1 695.6 453.8C696.9 454.4 698.3 455.1 699.6 455.7C700.9 456.3 702.3 457.0 703.6 457.6C704.9 458.2 706.3 458.9 707.6 459.5C708.9 460.1 710.3 460.7 711.6 461.3C712.9 461.9 714.3 462.5 715.6 463.1C716.9 463.7 718.3 464.3 719.6 464.9C720.9 465.5 722.3 466.1 723.6 466.7C724.9 467.3 726.3 467.9 727.6 468.5C728.9 469.1 730.3 469.7 731.6 470.2C732.9 470.8 734.3 471.4 735.6 472.0C736.9 472.6 738.3 473.2 739.6 473.7C740.9 474.3 742.3 474.9 743.6 475.5C744.9 476.0 746.3 476.6 747.6 477.2C748.9 477.7 750.3 478.3 751.6 478.9C752.9 479.4 754.3 480.0 755.6 480.5C756.9 481.1 758.3 481.6 759.6 482.2C760.9 482.7 762.9 483.5 763.6 483.8"/>
<path class="band" d="M759.7 481.7C760.4 481.4 762.5 480.4 763.9 479.8C765.3 479.1 766.6 478.5 768.0 477.8C769.4 477.2 770.8 476.6 772.2 475.9C773.5 475.3 774.9 474.6 776.3 474.0C777.7 473.4 779.1 472.7 780.5 472.1C781.8 471.5 783.2 470.9 784.6 470.2C786.0 469.6 787.4 469.0 788.7 468.4C790.1 467.8 791.5 467.2 792.9 466.6C794.3 466.1 795.7 465.5 797.0 464.9C798.4 464.3 799.8 463.8 801.2 463.2C802.6 462.7 803.9 462.2 805.3 461.7C806.7 461.1 808.1 460.6 809.5 460.1C810.9 459.6 812.2 459.2 813.6 458.7C815.0 458.2 816.4 457.8 817.8 457.4C819.1 456.9 820.5 456.5 821.9 456.1C823.3 455.7 824.7 455.3 826.1 455.0C827.4 454.7 828.8 454.4 830.2 454.3C831.6 454.1 833.0 454.0 834.3 454.1C835.7 454.2 837.1 454.5 838.5 454.9C839.9 455.3 841.3 455.9 842.6 456.7C844.0 457.4 845.4 458.4 846.8 459.4C848.2 460.5 849.5 461.8 850.9 463.1C852.3 464.4 853.7 465.8 855.1 467.2C856.5 468.7 857.8 470.2 859.2 471.6C860.6 473.1 862.0 474.6 863.4 476.0C864.7 477.4 866.1 478.8 867.5 480.0C868.9 481.3 871.0 483.0 871.7 483.6"/>
<path class="band" d="M630.6 483.3C631.3 483.0 633.3 481.8 634.6 481.1C636.0 480.5 637.3 479.9 638.6 479.4C640.0 478.9 641.3 478.4 642.7 478.0C644.0 477.6 645.4 477.3 646.7 477.0C648.0 476.7 649.4 476.5 650.7 476.3C652.1 476.1 653.4 475.9 654.8 475.8C656.1 475.6 657.5 475.5 658.8 475.4C660.1 475.3 661.5 475.2 662.8 475.2C664.2 475.1 665.5 475.0 666.9 475.0C668.2 475.0 669.5 474.9 670.9 474.9C672.2 474.9 673.6 474.9 674.9 474.9C676.3 475.0 677.6 475.0 679.0 475.0C680.3 475.0 681.6 475.1 683.0 475.2C684.3 475.2 685.7 475.3 687.0 475.3C688.4 475.4 689.7 475.5 691.0 475.6C692.4 475.7 693.7 475.8 695.1 475.9C696.4 476.0 697.8 476.1 699.1 476.2C700.4 476.3 701.8 476.4 703.1 476.6C704.5 476.7 705.8 476.8 707.2 476.9C708.5 477.1 709.9 477.2 711.2 477.3C712.5 477.5 713.9 477.6 715.2 477.7C716.6 477.9 717.9 478.0 719.3 478.1C720.6 478.3 721.9 478.4 723.3 478.6C724.6 478.7 726.0 478.8 727.3 479.0C728.7 479.1 730.0 479.2 731.3 479.4C732.7 479.5 734.0 479.7 735.4 479.8C736.7 479.9 738.1 480.1 739.4 480.2C740.8 480.3 742.1 480.5 743.4 480.6C744.8 480.7 746.1 480.8 747.5 480.9C748.8 481.1 750.2 481.2 751.5 481.2C752.8 481.3 754.2 481.4 755.5 481.4C756.9 481.4 758.2 481.4 759.6 481.3C760.9 481.2 762.2 481.1 763.6 480.9C764.9 480.8 766.3 480.6 767.6 480.4C769.0 480.2 770.3 479.9 771.7 479.7C773.0 479.5 774.3 479.4 775.7 479.2C777.0 479.0 778.4 478.8 779.7 478.6C781.1 478.4 782.4 478.2 783.7 477.9C785.1 477.7 786.4 477.5 787.8 477.3C789.1 477.0 790.5 476.8 791.8 476.5C793.2 476.3 794.5 476.0 795.8 475.7C797.2 475.5 798.5 475.2 799.9 474.9C801.2 474.6 802.6 474.3 803.9 473.9C805.2 473.6 806.6 473.3 807.9 472.9C809.3 472.6 810.6 472.2 812.0 471.9C813.3 471.5 814.6 471.1 816.0 470.7C817.3 470.3 818.7 469.9 820.0 469.5C821.4 469.0 822.7 468.6 824.1 468.1C825.4 467.7 826.7 467.2 828.1 466.7C829.4 466.3 830.8 465.7 832.1 465.2C833.5 464.7 834.8 464.2 836.1 463.6C837.5 463.1 838.8 462.5 840.2 462.0C841.5 461.4 842.9 460.8 844.2 460.2C845.5 459.7 846.9 459.1 848.2 458.5C849.6 457.9 850.9 457.3 852.3 456.7C853.6 456.1 855.0 455.5 856.3 454.9C857.6 454.3 859.0 453.7 860.3 453.1C861.7 452.5 863.0 451.9 864.4 451.3C865.7 450.7 867.0 450.1 868.4 449.5C869.7 449.0 871.1 448.4 872.4 447.9C873.8 447.3 875.1 446.8 876.4 446.2C877.8 445.7 879.1 445.2 880.5 444.7C881.8 444.2 883.2 443.7 884.5 443.2C885.9 442.7 887.2 442.3 888.5 441.8C889.9 441.4 891.2 440.9 892.6 440.5C893.9 440.1 895.3 439.7 896.6 439.3C897.9 439.0 899.3 438.6 900.6 438.2C902.0 437.9 903.3 437.6 904.7 437.3C906.0 437.0 907.4 436.7 908.7 436.4C910.0 436.1 911.4 435.9 912.7 435.6C914.1 435.4 915.4 435.1 916.8 434.9C918.1 434.7 919.4 434.4 920.8 434.2C922.1 434.0 923.5 433.8 924.8 433.6C926.2 433.4 927.5 433.2 928.8 433.0C930.2 432.8 931.5 432.5 932.9 432.4C934.2 432.2 935.6 432.0 936.9 431.8C938.3 431.7 939.6 431.6 940.9 431.4C942.3 431.3 943.6 431.3 945.0 431.2C946.3 431.1 947.7 431.1 949.0 431.0C950.3 431.0 951.7 430.9 953.0 430.9C954.4 430.8 955.7 430.8 957.1 430.8C958.4 430.8 959.7 430.7 961.1 430.7C962.4 430.7 963.8 430.7 965.1 430.7C966.5 430.8 967.8 430.8 969.2 431.0C970.5 431.2 971.8 431.4 973.2 431.8C974.5 432.1 975.9 432.5 977.2 433.0C978.6 433.5 979.9 434.0 981.2 434.6C982.6 435.2 983.9 435.9 985.3 436.6C986.6 437.3 988.0 438.1 989.3 438.9C990.6 439.7 992.0 440.5 993.3 441.4C994.7 442.2 996.0 443.1 997.4 444.0C998.7 444.9 1000.1 445.8 1001.4 446.7C1002.7 447.6 1004.1 448.5 1005.4 449.4C1006.8 450.2 1008.1 451.1 1009.5 452.0C1010.8 452.8 1012.1 453.7 1013.5 454.5C1014.8 455.3 1016.2 456.1 1017.5 456.8C1018.9 457.6 1020.2 458.3 1021.6 459.0C1022.9 459.7 1024.2 460.3 1025.6 460.9C1026.9 461.5 1028.3 462.1 1029.6 462.6C1031.0 463.1 1032.3 463.6 1033.6 464.0C1035.0 464.4 1036.3 464.8 1037.7 465.1C1039.0 465.4 1040.4 465.7 1041.7 465.9C1043.0 466.1 1044.4 466.2 1045.7 466.3C1047.1 466.4 1049.1 466.3 1049.8 466.3"/>
</g>
<line class="hs" x1="760.4" y1="111.9" x2="760.4" y2="482.6"/>
<line class="hs" x1="945.3" y1="111.9" x2="945.3" y2="482.6"/>
<rect class="fr" x="546.0" y="109.2" width="506.2" height="372.4"/>
<line class="tk" x1="538.5" y1="160.6" x2="544.0" y2="160.6"/>
<line class="tk" x1="538.5" y1="224.8" x2="544.0" y2="224.8"/>
<line class="tk" x1="538.5" y1="289.0" x2="544.0" y2="289.0"/>
<line class="tk" x1="538.5" y1="353.2" x2="544.0" y2="353.2"/>
<line class="tk" x1="538.5" y1="417.4" x2="544.0" y2="417.4"/>
<line class="tk" x1="542.0" y1="128.5" x2="544.0" y2="128.5"/>
<line class="tk" x1="542.0" y1="192.7" x2="544.0" y2="192.7"/>
<line class="tk" x1="542.0" y1="256.9" x2="544.0" y2="256.9"/>
<line class="tk" x1="542.0" y1="321.1" x2="544.0" y2="321.1"/>
<line class="tk" x1="542.0" y1="385.3" x2="544.0" y2="385.3"/>
<line class="tk" x1="542.0" y1="449.5" x2="544.0" y2="449.5"/>
<line class="tk" x1="538.5" y1="109.2" x2="546.0" y2="109.2"/>
<line class="tk" x1="538.5" y1="481.6" x2="546.0" y2="481.6"/>
<text class="tl" transform="translate(533.0 117.1) scale(1 1.075)">3.8</text>
<text class="tl" transform="translate(533.0 168.5) scale(1 1.075)">3</text>
<text class="tl" transform="translate(533.0 232.7) scale(1 1.075)">2</text>
<text class="tl" transform="translate(533.0 296.9) scale(1 1.075)">1</text>
<text class="tl" transform="translate(533.0 361.1) scale(1 1.075)">0</text>
<text class="tl" transform="translate(533.0 425.3) scale(1 1.075)">-1</text>
<text class="tl" transform="translate(533.0 489.5) scale(1 1.075)">-2</text>
<text font-size="33.2" text-anchor="middle" textLength="181.3" lengthAdjust="spacingAndGlyphs" transform="translate(471.7 286.0) rotate(-90)">Energy (eV)</text>
<text class="kl" x="546.6" y="529.2">K</text>
<text class="kl ser" x="760.8" y="530" style="font-weight:normal;font-size:35px">Γ</text>
<text class="kl" x="945.5" y="529.2">M</text>
<text class="kl" x="1055.2" y="529.2">K</text>
<text class="cap" x="799.2" y="597.7">Ti-Sc-N-NO-SCN</text>
<clipPath id="cc"><rect x="1229.5" y="109.2" width="506.2" height="372.4"/></clipPath>
<g clip-path="url(#cc)">
<path class="band" d="M1231.2 132.6C1231.8 132.7 1233.8 133.0 1235.2 133.3C1236.5 133.6 1237.8 134.0 1239.2 134.4C1240.5 134.9 1241.9 135.3 1243.2 135.9C1244.5 136.4 1245.9 137.0 1247.2 137.6C1248.5 138.2 1249.9 138.8 1251.2 139.5C1252.5 140.1 1253.9 140.8 1255.2 141.5C1256.6 142.2 1257.9 143.0 1259.2 143.7C1260.6 144.4 1261.9 145.1 1263.2 145.9C1264.6 146.6 1265.9 147.3 1267.2 148.0C1268.6 148.7 1269.9 149.4 1271.2 150.1C1272.6 150.8 1273.9 151.4 1275.3 152.0C1276.6 152.7 1277.9 153.3 1279.3 153.9C1280.6 154.5 1281.9 155.0 1283.3 155.6C1284.6 156.1 1285.9 156.7 1287.3 157.2C1288.6 157.7 1289.9 158.2 1291.3 158.7C1292.6 159.2 1294.0 159.6 1295.3 160.1C1296.6 160.5 1298.0 161.0 1299.3 161.4C1300.6 161.8 1302.0 162.2 1303.3 162.6C1304.6 163.0 1306.0 163.4 1307.3 163.7C1308.6 164.1 1310.0 164.4 1311.3 164.8C1312.7 165.1 1314.0 165.4 1315.3 165.7C1316.7 166.0 1318.0 166.3 1319.3 166.6C1320.7 166.9 1322.0 167.1 1323.3 167.4C1324.7 167.6 1326.0 167.9 1327.3 168.1C1328.7 168.4 1330.0 168.6 1331.4 168.8C1332.7 169.0 1334.0 169.2 1335.4 169.3C1336.7 169.5 1338.0 169.7 1339.4 169.8C1340.7 170.0 1342.0 170.1 1343.4 170.2C1344.7 170.4 1346.1 170.5 1347.4 170.6C1348.7 170.7 1350.1 170.8 1351.4 170.8C1352.7 170.9 1354.1 170.9 1355.4 171.0C1356.7 171.0 1358.1 171.0 1359.4 171.1C1360.7 171.1 1362.1 171.1 1363.4 171.0C1364.8 171.0 1366.1 171.0 1367.4 170.9C1368.8 170.9 1370.1 170.8 1371.4 170.7C1372.8 170.7 1374.1 170.6 1375.4 170.5C1376.8 170.3 1378.1 170.2 1379.4 170.1C1380.8 169.9 1382.1 169.8 1383.5 169.6C1384.8 169.4 1386.1 169.2 1387.5 169.0C1388.8 168.8 1390.1 168.6 1391.5 168.4C1392.8 168.1 1394.1 167.9 1395.5 167.6C1396.8 167.3 1398.1 167.1 1399.5 166.8C1400.8 166.4 1402.2 166.1 1403.5 165.8C1404.8 165.5 1406.2 165.1 1407.5 164.7C1408.8 164.4 1410.2 164.0 1411.5 163.6C1412.8 163.1 1414.2 162.7 1415.5 162.3C1416.9 161.8 1418.2 161.4 1419.5 160.9C1420.9 160.4 1422.2 160.0 1423.5 159.5C1424.9 159.0 1426.2 158.5 1427.5 158.1C1428.9 157.6 1430.2 157.2 1431.5 156.8C1432.9 156.4 1434.2 156.0 1435.6 155.6C1436.9 155.3 1438.2 155.0 1439.6 154.7C1440.9 154.4 1442.2 154.2 1443.6 154.1C1444.9 153.9 1446.2 153.8 1447.6 153.7C1448.9 153.5 1450.2 153.4 1451.6 153.2C1452.9 153.0 1454.3 152.7 1455.6 152.3C1456.9 151.9 1458.3 151.5 1459.6 150.9C1460.9 150.3 1462.3 149.7 1463.6 149.0C1464.9 148.3 1466.3 147.5 1467.6 146.7C1468.9 145.8 1470.3 144.9 1471.6 144.0C1473.0 143.0 1474.3 142.0 1475.6 140.9C1477.0 139.8 1478.3 138.7 1479.6 137.6C1481.0 136.4 1482.3 135.2 1483.6 134.0C1485.0 132.8 1486.3 131.6 1487.6 130.3C1489.0 129.1 1490.3 127.8 1491.7 126.6C1493.0 125.3 1494.3 124.1 1495.7 122.8C1497.0 121.6 1498.3 120.3 1499.7 119.1C1501.0 117.9 1502.3 116.8 1503.7 115.6C1505.0 114.5 1506.4 113.4 1507.7 112.4C1509.0 111.3 1510.4 110.3 1511.7 109.4C1513.0 108.5 1515.0 107.2 1515.7 106.8"/>
<path class="band" d="M1269.8 108.7C1270.5 109.2 1272.5 110.7 1273.8 111.7C1275.2 112.7 1276.5 113.7 1277.8 114.7C1279.2 115.7 1280.5 116.6 1281.9 117.6C1283.2 118.5 1284.6 119.5 1285.9 120.4C1287.3 121.3 1288.6 122.2 1289.9 123.1C1291.3 124.0 1292.6 124.8 1294.0 125.7C1295.3 126.5 1296.7 127.4 1298.0 128.2C1299.3 129.0 1300.7 129.8 1302.0 130.5C1303.4 131.3 1304.7 132.1 1306.1 132.8C1307.4 133.5 1308.8 134.2 1310.1 134.9C1311.4 135.6 1312.8 136.3 1314.1 136.9C1315.5 137.5 1316.8 138.1 1318.2 138.7C1319.5 139.3 1320.9 139.9 1322.2 140.4C1323.5 140.9 1324.9 141.4 1326.2 141.9C1327.6 142.4 1328.9 142.8 1330.3 143.2C1331.6 143.7 1332.9 144.1 1334.3 144.4C1335.6 144.8 1337.0 145.1 1338.3 145.4C1339.7 145.7 1341.0 145.9 1342.4 146.2C1343.7 146.4 1345.0 146.6 1346.4 146.7C1347.7 146.9 1349.1 147.0 1350.4 147.1C1351.8 147.2 1353.1 147.2 1354.4 147.2C1355.8 147.3 1357.1 147.2 1358.5 147.2C1359.8 147.1 1361.2 147.1 1362.5 147.0C1363.9 146.9 1365.2 146.8 1366.5 146.6C1367.9 146.5 1369.2 146.3 1370.6 146.2C1371.9 146.0 1373.3 145.8 1374.6 145.7C1376.0 145.5 1377.3 145.3 1378.6 145.1C1380.0 144.9 1381.3 144.7 1382.7 144.5C1384.0 144.4 1385.4 144.2 1386.7 144.0C1388.0 143.8 1389.4 143.7 1390.7 143.6C1392.1 143.5 1393.4 143.4 1394.8 143.4C1396.1 143.4 1397.5 143.4 1398.8 143.5C1400.1 143.6 1401.5 143.8 1402.8 144.0C1404.2 144.2 1405.5 144.5 1406.9 144.7C1408.2 145.0 1409.6 145.3 1410.9 145.7C1412.2 146.0 1413.6 146.4 1414.9 146.7C1416.3 147.1 1417.6 147.5 1419.0 147.9C1420.3 148.2 1421.6 148.6 1423.0 149.0C1424.3 149.3 1425.7 149.6 1427.0 150.0C1428.4 150.3 1429.7 150.6 1431.1 150.9C1432.4 151.2 1433.7 151.4 1435.1 151.7C1436.4 152.0 1437.8 152.2 1439.1 152.5C1440.5 152.8 1441.8 153.0 1443.1 153.3C1444.5 153.5 1445.8 153.8 1447.2 154.1C1448.5 154.4 1449.9 154.7 1451.2 155.0C1452.6 155.4 1453.9 155.7 1455.2 156.2C1456.6 156.7 1457.9 157.2 1459.3 157.8C1460.6 158.4 1462.0 159.1 1463.3 159.8C1464.7 160.6 1466.0 161.5 1467.3 162.3C1468.7 163.1 1470.0 164.0 1471.4 164.9C1472.7 165.7 1474.1 166.6 1475.4 167.5C1476.7 168.3 1478.1 169.2 1479.4 170.1C1480.8 170.9 1482.1 171.8 1483.5 172.6C1484.8 173.5 1486.2 174.3 1487.5 175.2C1488.8 176.0 1490.2 176.8 1491.5 177.7C1492.9 178.6 1494.2 179.5 1495.6 180.4C1496.9 181.3 1498.3 182.2 1499.6 183.2C1500.9 184.1 1502.3 185.1 1503.6 186.1C1505.0 187.0 1506.3 188.0 1507.7 189.0C1509.0 190.0 1510.3 191.0 1511.7 192.1C1513.0 193.1 1514.4 194.1 1515.7 195.1C1517.1 196.1 1518.4 197.1 1519.8 198.1C1521.1 199.1 1522.4 200.1 1523.8 201.1C1525.1 202.1 1526.5 203.1 1527.8 204.1C1529.2 205.0 1530.5 206.0 1531.8 206.9C1533.2 207.9 1534.5 208.8 1535.9 209.7C1537.2 210.6 1538.6 211.5 1539.9 212.3C1541.3 213.2 1542.6 214.0 1543.9 214.9C1545.3 215.7 1546.6 216.5 1548.0 217.3C1549.3 218.1 1550.7 218.9 1552.0 219.6C1553.4 220.4 1554.7 221.1 1556.0 221.9C1557.4 222.6 1558.7 223.3 1560.1 224.0C1561.4 224.6 1562.8 225.3 1564.1 225.9C1565.4 226.6 1566.8 227.2 1568.1 227.8C1569.5 228.4 1570.8 229.0 1572.2 229.5C1573.5 230.1 1574.9 230.6 1576.2 231.2C1577.5 231.7 1578.9 232.2 1580.2 232.7C1581.6 233.1 1582.9 233.6 1584.3 234.0C1585.6 234.5 1586.9 234.9 1588.3 235.3C1589.6 235.7 1591.0 236.0 1592.3 236.4C1593.7 236.7 1595.0 237.1 1596.4 237.4C1597.7 237.7 1599.0 238.0 1600.4 238.2C1601.7 238.5 1603.1 238.7 1604.4 238.9C1605.8 239.1 1607.1 239.3 1608.5 239.5C1609.8 239.7 1611.1 239.8 1612.5 239.9C1613.8 240.0 1615.2 240.1 1616.5 240.2C1617.9 240.3 1619.2 240.3 1620.5 240.4C1621.9 240.4 1623.2 240.4 1624.6 240.3C1625.9 240.3 1627.3 240.2 1628.6 240.0C1630.0 239.9 1631.3 239.7 1632.6 239.4C1634.0 239.1 1635.3 238.7 1636.7 238.2C1638.0 237.7 1639.4 237.2 1640.7 236.5C1642.1 235.8 1643.4 235.0 1644.7 234.1C1646.1 233.2 1647.4 232.1 1648.8 230.9C1650.1 229.7 1651.5 228.4 1652.8 226.9C1654.1 225.5 1655.5 223.9 1656.8 222.3C1658.2 220.6 1659.5 218.9 1660.9 217.1C1662.2 215.2 1663.6 213.3 1664.9 211.4C1666.2 209.5 1667.6 207.5 1668.9 205.5C1670.3 203.4 1671.6 201.4 1673.0 199.3C1674.3 197.2 1675.6 195.2 1677.0 193.1C1678.3 191.0 1679.7 188.8 1681.0 186.7C1682.4 184.6 1683.7 182.4 1685.1 180.3C1686.4 178.2 1687.7 176.0 1689.1 173.9C1690.4 171.8 1691.8 169.7 1693.1 167.7C1694.5 165.6 1695.8 163.6 1697.2 161.6C1698.5 159.6 1699.8 157.7 1701.2 155.9C1702.5 154.1 1703.9 152.3 1705.2 150.6C1706.6 148.9 1707.9 147.4 1709.2 145.9C1710.6 144.4 1711.9 143.0 1713.3 141.8C1714.6 140.6 1716.0 139.4 1717.3 138.5C1718.7 137.5 1720.0 136.7 1721.3 136.0C1722.7 135.3 1724.0 134.8 1725.4 134.3C1726.7 133.9 1728.1 133.6 1729.4 133.3C1730.8 133.0 1732.8 132.8 1733.4 132.7"/>
<path class="band" d="M1396.3 107.9C1397.0 108.5 1399.1 110.3 1400.4 111.5C1401.8 112.7 1403.2 114.0 1404.6 115.2C1406.0 116.4 1407.3 117.6 1408.7 118.7C1410.1 119.9 1411.5 121.0 1412.8 122.2C1414.2 123.3 1415.6 124.3 1417.0 125.4C1418.3 126.4 1419.7 127.4 1421.1 128.3C1422.5 129.3 1423.8 130.2 1425.2 131.0C1426.6 131.8 1428.0 132.6 1429.3 133.3C1430.7 133.9 1432.1 134.6 1433.5 135.1C1434.8 135.6 1436.2 136.1 1437.6 136.5C1439.0 136.8 1440.3 137.1 1441.7 137.2C1443.1 137.4 1444.5 137.4 1445.8 137.2C1447.2 137.1 1448.6 136.8 1450.0 136.4C1451.3 136.0 1452.7 135.5 1454.1 134.9C1455.5 134.3 1456.8 133.6 1458.2 132.8C1459.6 132.1 1461.0 131.2 1462.3 130.3C1463.7 129.4 1465.1 128.5 1466.5 127.5C1467.8 126.6 1469.2 125.6 1470.6 124.7C1472.0 123.7 1473.3 122.8 1474.7 121.9C1476.1 121.0 1477.5 120.2 1478.8 119.4C1480.2 118.6 1481.6 117.9 1483.0 117.2C1484.4 116.4 1485.7 115.8 1487.1 115.1C1488.5 114.4 1489.9 113.7 1491.2 113.0C1492.6 112.3 1494.0 111.6 1495.4 110.9C1496.7 110.1 1498.8 108.9 1499.5 108.6"/>
<path class="band" d="M1231.2 472.0C1231.8 471.9 1233.8 471.7 1235.2 471.5C1236.5 471.2 1237.9 471.0 1239.2 470.7C1240.5 470.3 1241.9 470.0 1243.2 469.6C1244.6 469.2 1245.9 468.8 1247.2 468.3C1248.6 467.9 1249.9 467.4 1251.2 466.9C1252.6 466.4 1253.9 465.8 1255.3 465.3C1256.6 464.7 1257.9 464.1 1259.3 463.5C1260.6 462.9 1262.0 462.2 1263.3 461.6C1264.6 460.9 1266.0 460.2 1267.3 459.5C1268.6 458.8 1270.0 458.1 1271.3 457.4C1272.7 456.7 1274.0 456.0 1275.3 455.3C1276.7 454.5 1278.0 453.8 1279.4 453.1C1280.7 452.3 1282.0 451.6 1283.4 450.8C1284.7 450.1 1286.0 449.3 1287.4 448.6C1288.7 447.9 1290.1 447.1 1291.4 446.4C1292.7 445.7 1294.1 444.9 1295.4 444.2C1296.8 443.5 1298.1 442.8 1299.4 442.1C1300.8 441.5 1302.1 440.8 1303.4 440.1C1304.8 439.5 1306.1 438.8 1307.5 438.2C1308.8 437.6 1310.1 437.0 1311.5 436.4C1312.8 435.9 1314.2 435.3 1315.5 434.8C1316.8 434.2 1318.2 433.8 1319.5 433.3C1320.8 432.8 1322.2 432.3 1323.5 431.8C1324.9 431.3 1326.2 430.8 1327.5 430.2C1328.9 429.6 1330.2 428.9 1331.6 428.2C1332.9 427.5 1334.2 426.7 1335.6 425.9C1336.9 425.1 1338.2 424.2 1339.6 423.3C1340.9 422.4 1342.3 421.4 1343.6 420.5C1344.9 419.5 1346.3 418.4 1347.6 417.4C1349.0 416.4 1350.3 415.3 1351.6 414.2C1353.0 413.1 1354.3 411.9 1355.6 410.8C1357.0 409.7 1358.3 408.5 1359.7 407.3C1361.0 406.2 1362.3 405.0 1363.7 403.8C1365.0 402.6 1366.4 401.4 1367.7 400.2C1369.0 399.0 1370.4 397.7 1371.7 396.5C1373.0 395.3 1374.4 394.1 1375.7 392.8C1377.1 391.6 1378.4 390.4 1379.7 389.1C1381.1 387.9 1382.4 386.7 1383.8 385.5C1385.1 384.2 1386.4 383.0 1387.8 381.8C1389.1 380.6 1390.4 379.4 1391.8 378.3C1393.1 377.1 1394.5 375.9 1395.8 374.8C1397.1 373.7 1398.5 372.6 1399.8 371.5C1401.2 370.5 1402.5 369.4 1403.8 368.4C1405.2 367.4 1406.5 366.5 1407.8 365.6C1409.2 364.6 1410.5 363.8 1411.9 362.9C1413.2 362.1 1414.5 361.4 1415.9 360.6C1417.2 359.9 1418.6 359.2 1419.9 358.6C1421.2 358.0 1422.6 357.5 1423.9 357.0C1425.2 356.5 1426.6 356.0 1427.9 355.6C1429.3 355.2 1430.6 354.9 1431.9 354.6C1433.3 354.3 1434.6 354.1 1436.0 354.0C1437.3 353.8 1438.6 353.7 1440.0 353.7C1441.3 353.6 1442.6 353.7 1444.0 353.7C1445.3 353.8 1446.7 353.9 1448.0 354.1C1449.3 354.3 1450.7 354.5 1452.0 354.8C1453.4 355.1 1454.7 355.4 1456.0 355.8C1457.4 356.1 1458.7 356.5 1460.0 357.0C1461.4 357.4 1462.7 357.9 1464.1 358.4C1465.4 358.9 1466.7 359.5 1468.1 360.1C1469.4 360.7 1470.8 361.3 1472.1 361.9C1473.4 362.6 1474.8 363.2 1476.1 363.9C1477.4 364.6 1478.8 365.4 1480.1 366.1C1481.5 366.8 1482.8 367.6 1484.1 368.4C1485.5 369.1 1486.8 369.9 1488.2 370.7C1489.5 371.5 1490.8 372.3 1492.2 373.1C1493.5 374.0 1494.8 374.8 1496.2 375.6C1497.5 376.5 1498.9 377.3 1500.2 378.1C1501.5 379.0 1502.9 379.8 1504.2 380.7C1505.6 381.5 1506.9 382.3 1508.2 383.2C1509.6 384.0 1510.9 384.8 1512.2 385.6C1513.6 386.5 1514.9 387.3 1516.3 388.1C1517.6 388.8 1518.9 389.6 1520.3 390.4C1521.6 391.1 1523.0 391.9 1524.3 392.6C1525.6 393.3 1527.0 394.0 1528.3 394.7C1529.6 395.4 1531.0 396.0 1532.3 396.7C1533.7 397.3 1535.0 397.9 1536.3 398.5C1537.7 399.0 1539.0 399.6 1540.4 400.1C1541.7 400.6 1543.0 401.1 1544.4 401.5C1545.7 402.0 1547.0 402.4 1548.4 402.8C1549.7 403.2 1551.1 403.6 1552.4 404.0C1553.7 404.3 1555.1 404.7 1556.4 405.0C1557.8 405.3 1559.1 405.6 1560.4 405.9C1561.8 406.2 1563.1 406.4 1564.4 406.7C1565.8 406.9 1567.1 407.1 1568.5 407.3C1569.8 407.6 1571.1 407.7 1572.5 407.9C1573.8 408.1 1575.2 408.3 1576.5 408.4C1577.8 408.6 1579.2 408.7 1580.5 408.8C1581.8 408.9 1583.2 409.0 1584.5 409.1C1585.9 409.2 1587.2 409.3 1588.5 409.4C1589.9 409.5 1591.2 409.6 1592.6 409.6C1593.9 409.7 1595.2 409.7 1596.6 409.8C1597.9 409.8 1599.2 409.8 1600.6 409.8C1601.9 409.9 1603.3 409.9 1604.6 409.9C1605.9 409.9 1607.3 409.9 1608.6 409.8C1610.0 409.8 1611.3 409.8 1612.6 409.7C1614.0 409.7 1615.3 409.7 1616.6 409.6C1618.0 409.6 1619.3 409.5 1620.7 409.4C1622.0 409.4 1623.3 409.3 1624.7 409.4C1626.0 409.4 1627.4 409.4 1628.7 409.5C1630.0 409.6 1631.4 409.8 1632.7 410.0C1634.0 410.3 1635.4 410.6 1636.7 411.1C1638.1 411.6 1639.4 412.1 1640.7 412.8C1642.1 413.5 1643.4 414.4 1644.8 415.3C1646.1 416.3 1647.4 417.3 1648.8 418.5C1650.1 419.6 1651.4 420.8 1652.8 422.1C1654.1 423.4 1655.5 424.7 1656.8 426.1C1658.1 427.5 1659.5 428.9 1660.8 430.4C1662.1 431.8 1663.5 433.3 1664.8 434.7C1666.2 436.2 1667.5 437.7 1668.8 439.1C1670.2 440.6 1671.5 442.0 1672.9 443.4C1674.2 444.8 1675.5 446.2 1676.9 447.6C1678.2 448.9 1679.5 450.3 1680.9 451.5C1682.2 452.8 1683.6 454.1 1684.9 455.3C1686.2 456.6 1687.6 457.7 1688.9 458.9C1690.3 460.0 1691.6 461.1 1692.9 462.2C1694.3 463.2 1695.6 464.2 1696.9 465.2C1698.3 466.2 1699.6 467.1 1701.0 467.9C1702.3 468.8 1703.6 469.6 1705.0 470.4C1706.3 471.1 1707.7 471.8 1709.0 472.5C1710.3 473.2 1711.7 473.8 1713.0 474.3C1714.3 474.9 1715.7 475.3 1717.0 475.8C1718.4 476.2 1719.7 476.6 1721.0 476.9C1722.4 477.2 1723.7 477.5 1725.1 477.6C1726.4 477.8 1727.7 478.0 1729.1 478.0C1730.4 478.1 1732.4 478.0 1733.1 478.0"/>
<path class="band" d="M1231.2 477.7C1231.8 477.6 1233.9 477.3 1235.2 477.0C1236.5 476.8 1237.9 476.5 1239.2 476.1C1240.6 475.8 1241.9 475.4 1243.2 475.0C1244.6 474.5 1245.9 474.1 1247.3 473.6C1248.6 473.1 1250.0 472.6 1251.3 472.1C1252.6 471.6 1254.0 471.0 1255.3 470.4C1256.7 469.9 1258.0 469.3 1259.4 468.7C1260.7 468.0 1262.0 467.4 1263.4 466.8C1264.7 466.2 1266.1 465.5 1267.4 464.9C1268.8 464.2 1270.1 463.5 1271.4 462.9C1272.8 462.2 1274.1 461.6 1275.5 460.9C1276.8 460.3 1278.1 459.6 1279.5 459.0C1280.8 458.3 1282.2 457.7 1283.5 457.1C1284.9 456.5 1286.2 455.8 1287.5 455.3C1288.9 454.7 1290.2 454.1 1291.6 453.5C1292.9 453.0 1294.3 452.5 1295.6 452.0C1296.9 451.4 1298.3 451.0 1299.6 450.5C1301.0 450.0 1302.3 449.5 1303.6 449.0C1305.0 448.5 1306.3 448.0 1307.7 447.5C1309.0 446.9 1310.4 446.4 1311.7 445.7C1313.0 445.1 1314.4 444.4 1315.7 443.7C1317.1 443.0 1318.4 442.2 1319.8 441.3C1321.1 440.4 1322.4 439.5 1323.8 438.6C1325.1 437.7 1326.5 436.7 1327.8 435.8C1329.1 434.9 1330.5 433.9 1331.8 433.1C1333.2 432.2 1334.5 431.4 1335.9 430.7C1337.2 429.9 1338.5 429.2 1339.9 428.6C1341.2 427.9 1342.6 427.4 1343.9 426.9C1345.3 426.4 1346.6 426.0 1347.9 425.6C1349.3 425.3 1350.6 425.0 1352.0 424.8C1353.3 424.5 1354.6 424.3 1356.0 424.2C1357.3 424.1 1358.7 424.0 1360.0 423.9C1361.4 423.8 1362.7 423.7 1364.0 423.6C1365.4 423.5 1366.7 423.4 1368.1 423.2C1369.4 422.9 1370.8 422.7 1372.1 422.3C1373.4 421.9 1374.8 421.4 1376.1 420.7C1377.5 420.1 1378.8 419.3 1380.1 418.3C1381.5 417.3 1382.8 416.2 1384.2 414.8C1385.5 413.5 1386.9 412.0 1388.2 410.3C1389.5 408.6 1390.9 406.7 1392.2 404.7C1393.6 402.7 1394.9 400.5 1396.3 398.4C1397.6 396.2 1398.9 393.9 1400.3 391.7C1401.6 389.5 1403.0 387.2 1404.3 385.1C1405.7 383.0 1407.0 380.9 1408.3 378.9C1409.7 377.0 1411.0 375.1 1412.4 373.4C1413.7 371.6 1415.0 370.0 1416.4 368.4C1417.7 366.9 1419.1 365.5 1420.4 364.2C1421.8 362.8 1423.1 361.6 1424.4 360.6C1425.8 359.5 1427.1 358.5 1428.5 357.7C1429.8 356.9 1431.2 356.2 1432.5 355.6C1433.8 355.1 1435.2 354.6 1436.5 354.3C1437.9 354.0 1439.2 353.8 1440.5 353.7C1441.9 353.7 1443.2 353.8 1444.6 353.9C1445.9 354.1 1447.3 354.5 1448.6 354.9C1449.9 355.3 1451.3 355.9 1452.6 356.6C1454.0 357.3 1455.3 358.1 1456.7 359.0C1458.0 360.0 1459.3 361.0 1460.7 362.2C1462.0 363.4 1463.4 364.7 1464.7 366.1C1466.0 367.6 1467.4 369.1 1468.7 370.8C1470.1 372.5 1471.4 374.2 1472.8 376.1C1474.1 378.0 1475.4 380.1 1476.8 382.2C1478.1 384.3 1479.5 386.6 1480.8 388.9C1482.2 391.3 1483.5 393.8 1484.8 396.2C1486.2 398.6 1487.5 401.2 1488.9 403.5C1490.2 405.8 1491.5 408.1 1492.9 410.1C1494.2 412.1 1495.6 413.9 1496.9 415.4C1498.3 417.0 1499.6 418.3 1500.9 419.4C1502.3 420.5 1503.6 421.5 1505.0 422.3C1506.3 423.1 1507.7 423.7 1509.0 424.2C1510.3 424.8 1511.7 425.2 1513.0 425.5C1514.4 425.9 1515.7 426.1 1517.1 426.3C1518.4 426.6 1519.7 426.7 1521.1 426.9C1522.4 427.1 1523.8 427.2 1525.1 427.3C1526.4 427.5 1527.8 427.6 1529.1 427.7C1530.5 427.8 1531.8 427.9 1533.2 428.1C1534.5 428.2 1535.8 428.4 1537.2 428.5C1538.5 428.7 1539.9 428.9 1541.2 429.2C1542.6 429.5 1543.9 429.8 1545.2 430.1C1546.6 430.4 1547.9 430.8 1549.3 431.2C1550.6 431.7 1551.9 432.1 1553.3 432.5C1554.6 433.0 1556.0 433.5 1557.3 434.0C1558.7 434.5 1560.0 435.0 1561.3 435.4C1562.7 435.9 1564.0 436.4 1565.4 436.9C1566.7 437.4 1568.1 437.9 1569.4 438.3C1570.7 438.8 1572.1 439.2 1573.4 439.7C1574.8 440.1 1576.1 440.5 1577.4 440.9C1578.8 441.3 1580.1 441.7 1581.5 442.0C1582.8 442.4 1584.2 442.7 1585.5 443.0C1586.8 443.3 1588.2 443.6 1589.5 443.9C1590.9 444.1 1592.2 444.4 1593.6 444.6C1594.9 444.8 1596.2 444.9 1597.6 445.1C1598.9 445.2 1600.3 445.3 1601.6 445.4C1602.9 445.5 1604.3 445.5 1605.6 445.5C1607.0 445.6 1608.3 445.6 1609.7 445.6C1611.0 445.6 1612.3 445.7 1613.7 445.7C1615.0 445.7 1616.4 445.7 1617.7 445.7C1619.1 445.8 1620.4 445.8 1621.7 445.9C1623.1 445.9 1624.4 446.0 1625.8 446.1C1627.1 446.1 1628.4 446.2 1629.8 446.4C1631.1 446.5 1632.5 446.6 1633.8 446.8C1635.2 447.0 1636.5 447.2 1637.8 447.4C1639.2 447.7 1640.5 448.0 1641.9 448.3C1643.2 448.6 1644.6 449.0 1645.9 449.4C1647.2 449.8 1648.6 450.3 1649.9 450.8C1651.3 451.2 1652.6 451.8 1654.0 452.4C1655.3 452.9 1656.6 453.6 1658.0 454.2C1659.3 454.9 1660.7 455.6 1662.0 456.4C1663.3 457.1 1664.7 457.9 1666.0 458.7C1667.4 459.6 1668.7 460.4 1670.1 461.4C1671.4 462.3 1672.7 463.2 1674.1 464.2C1675.4 465.2 1676.8 466.2 1678.1 467.2C1679.5 468.3 1680.8 469.3 1682.1 470.4C1683.5 471.5 1684.8 472.5 1686.2 473.6C1687.5 474.7 1688.8 475.8 1690.2 476.9C1691.5 478.0 1692.9 479.1 1694.2 480.2C1695.6 481.3 1696.9 482.4 1698.2 483.5C1699.6 484.5 1701.6 486.1 1702.3 486.6"/>
<path class="band" d="M1277.9 482.0C1278.6 481.5 1280.6 480.3 1281.9 479.4C1283.3 478.5 1284.6 477.6 1285.9 476.7C1287.3 475.8 1288.6 474.9 1290.0 473.9C1291.3 473.0 1292.7 472.1 1294.0 471.1C1295.3 470.2 1296.7 469.2 1298.0 468.3C1299.4 467.3 1300.7 466.4 1302.1 465.4C1303.4 464.5 1304.7 463.6 1306.1 462.6C1307.4 461.7 1308.8 460.8 1310.1 459.9C1311.5 459.1 1312.8 458.2 1314.1 457.3C1315.5 456.5 1316.8 455.7 1318.2 454.9C1319.5 454.0 1320.9 453.3 1322.2 452.5C1323.5 451.7 1324.9 451.0 1326.2 450.3C1327.6 449.6 1328.9 448.9 1330.3 448.2C1331.6 447.6 1332.9 446.9 1334.3 446.3C1335.6 445.7 1337.0 445.1 1338.3 444.6C1339.7 444.0 1341.0 443.5 1342.3 443.0C1343.7 442.5 1345.0 442.0 1346.4 441.6C1347.7 441.1 1349.1 440.7 1350.4 440.3C1351.7 439.9 1353.1 439.6 1354.4 439.2C1355.8 438.9 1357.1 438.5 1358.5 438.2C1359.8 437.9 1361.1 437.5 1362.5 437.2C1363.8 436.9 1365.2 436.6 1366.5 436.3C1367.9 436.0 1369.2 435.7 1370.5 435.4C1371.9 435.1 1373.2 434.9 1374.6 434.6C1375.9 434.3 1377.3 434.0 1378.6 433.7C1379.9 433.4 1381.3 433.1 1382.6 432.8C1384.0 432.5 1385.3 432.2 1386.7 432.0C1388.0 431.7 1389.3 431.4 1390.7 431.2C1392.0 430.9 1393.4 430.7 1394.7 430.5C1396.1 430.3 1397.4 430.0 1398.7 429.8C1400.1 429.6 1401.4 429.5 1402.8 429.3C1404.1 429.1 1405.5 429.0 1406.8 428.8C1408.1 428.7 1409.5 428.5 1410.8 428.4C1412.2 428.3 1413.5 428.2 1414.9 428.0C1416.2 427.9 1417.5 427.8 1418.9 427.8C1420.2 427.7 1421.6 427.6 1422.9 427.5C1424.3 427.5 1425.6 427.4 1426.9 427.4C1428.3 427.3 1429.6 427.3 1431.0 427.2C1432.3 427.2 1433.7 427.2 1435.0 427.2C1436.3 427.2 1437.7 427.1 1439.0 427.1C1440.4 427.1 1441.7 427.2 1443.1 427.2C1444.4 427.2 1445.7 427.2 1447.1 427.2C1448.4 427.3 1449.8 427.3 1451.1 427.3C1452.5 427.4 1453.8 427.4 1455.1 427.5C1456.5 427.5 1457.8 427.6 1459.2 427.7C1460.5 427.7 1461.9 427.8 1463.2 427.9C1464.5 428.0 1465.9 428.1 1467.2 428.1C1468.6 428.2 1469.9 428.3 1471.2 428.4C1472.6 428.5 1473.9 428.6 1475.3 428.7C1476.6 428.8 1478.0 429.0 1479.3 429.1C1480.6 429.2 1482.0 429.3 1483.3 429.4C1484.7 429.6 1486.0 429.7 1487.4 429.8C1488.7 430.0 1490.0 430.1 1491.4 430.2C1492.7 430.4 1494.1 430.5 1495.4 430.7C1496.8 430.8 1498.1 430.9 1499.4 431.1C1500.8 431.2 1502.1 431.4 1503.5 431.5C1504.8 431.7 1506.2 431.8 1507.5 432.0C1508.8 432.2 1510.2 432.3 1511.5 432.5C1512.9 432.6 1514.2 432.8 1515.6 433.0C1516.9 433.1 1518.2 433.3 1519.6 433.4C1520.9 433.6 1522.3 433.8 1523.6 433.9C1525.0 434.1 1526.3 434.3 1527.6 434.4C1529.0 434.6 1530.3 434.8 1531.7 434.9C1533.0 435.1 1534.4 435.2 1535.7 435.4C1537.0 435.6 1538.4 435.7 1539.7 435.9C1541.1 436.0 1542.4 436.2 1543.8 436.3C1545.1 436.5 1546.4 436.7 1547.8 436.8C1549.1 437.0 1550.5 437.1 1551.8 437.3C1553.2 437.4 1554.5 437.6 1555.8 437.7C1557.2 437.8 1558.5 438.0 1559.9 438.1C1561.2 438.3 1562.6 438.4 1563.9 438.5C1565.2 438.6 1566.6 438.8 1567.9 438.9C1569.3 439.0 1570.6 439.1 1572.0 439.3C1573.3 439.4 1574.6 439.5 1576.0 439.6C1577.3 439.7 1578.7 439.8 1580.0 439.9C1581.4 440.0 1582.7 440.1 1584.0 440.2C1585.4 440.3 1586.7 440.4 1588.1 440.5C1589.4 440.6 1590.8 440.7 1592.1 440.7C1593.4 440.8 1594.8 440.9 1596.1 441.0C1597.5 441.1 1598.8 441.1 1600.2 441.2C1601.5 441.3 1602.8 441.3 1604.2 441.4C1605.5 441.5 1606.9 441.5 1608.2 441.6C1609.6 441.6 1610.9 441.7 1612.2 441.7C1613.6 441.8 1614.9 441.8 1616.3 441.9C1617.6 441.9 1619.0 442.0 1620.3 442.0C1621.6 442.0 1623.0 442.1 1624.3 442.1C1625.7 442.1 1627.0 442.2 1628.4 442.2C1629.7 442.2 1631.0 442.2 1632.4 442.3C1633.7 442.3 1635.1 442.3 1636.4 442.4C1637.8 442.4 1639.1 442.4 1640.4 442.5C1641.8 442.5 1643.1 442.6 1644.5 442.7C1645.8 442.8 1647.2 442.9 1648.5 443.0C1649.8 443.1 1651.2 443.3 1652.5 443.4C1653.9 443.6 1655.2 443.8 1656.6 444.1C1657.9 444.3 1659.2 444.6 1660.6 444.9C1661.9 445.2 1663.3 445.5 1664.6 445.9C1665.9 446.3 1667.3 446.7 1668.6 447.2C1670.0 447.6 1671.3 448.2 1672.7 448.7C1674.0 449.2 1675.3 449.8 1676.7 450.4C1678.0 451.0 1679.4 451.6 1680.7 452.3C1682.1 452.9 1683.4 453.6 1684.7 454.3C1686.1 454.9 1687.4 455.6 1688.8 456.3C1690.1 457.0 1691.5 457.7 1692.8 458.4C1694.1 459.1 1695.5 459.8 1696.8 460.5C1698.2 461.1 1699.5 461.8 1700.9 462.5C1702.2 463.1 1703.5 463.8 1704.9 464.4C1706.2 465.0 1707.6 465.6 1708.9 466.2C1710.3 466.7 1711.6 467.3 1712.9 467.8C1714.3 468.3 1715.6 468.8 1717.0 469.2C1718.3 469.6 1719.7 470.0 1721.0 470.3C1722.3 470.6 1723.7 470.9 1725.0 471.2C1726.4 471.4 1727.7 471.5 1729.1 471.6C1730.4 471.7 1732.4 471.7 1733.1 471.8"/>
<path class="band" d="M1342.8 483.1C1343.5 482.5 1345.5 480.6 1346.9 479.4C1348.2 478.1 1349.6 476.9 1351.0 475.5C1352.3 474.1 1353.7 472.7 1355.0 471.0C1356.4 469.3 1357.8 467.4 1359.1 465.5C1360.5 463.5 1361.8 461.3 1363.2 459.3C1364.6 457.2 1365.9 455.1 1367.3 453.2C1368.6 451.3 1370.0 449.4 1371.4 447.8C1372.7 446.1 1374.1 444.7 1375.4 443.5C1376.8 442.4 1378.2 441.5 1379.5 440.8C1380.9 440.1 1382.3 439.6 1383.6 439.1C1385.0 438.6 1386.3 438.3 1387.7 437.9C1389.1 437.6 1390.4 437.3 1391.8 437.1C1393.1 436.8 1394.5 436.6 1395.9 436.4C1397.2 436.2 1398.6 436.0 1399.9 435.8C1401.3 435.6 1402.7 435.4 1404.0 435.2C1405.4 435.0 1406.7 434.7 1408.1 434.4C1409.5 434.1 1410.8 433.7 1412.2 433.4C1413.6 433.0 1414.9 432.6 1416.3 432.2C1417.6 431.8 1419.0 431.4 1420.4 431.0C1421.7 430.7 1423.1 430.3 1424.4 430.0C1425.8 429.7 1427.2 429.4 1428.5 429.2C1429.9 428.9 1431.2 428.8 1432.6 428.6C1434.0 428.4 1435.3 428.3 1436.7 428.2C1438.1 428.2 1439.4 428.1 1440.8 428.1C1442.1 428.1 1443.5 428.2 1444.9 428.2C1446.2 428.3 1447.6 428.4 1448.9 428.6C1450.3 428.7 1451.7 428.9 1453.0 429.1C1454.4 429.3 1455.7 429.6 1457.1 429.8C1458.5 430.1 1459.8 430.3 1461.2 430.6C1462.5 430.9 1463.9 431.3 1465.3 431.6C1466.6 431.9 1468.0 432.2 1469.4 432.6C1470.7 432.9 1472.1 433.3 1473.4 433.6C1474.8 434.0 1476.2 434.4 1477.5 434.7C1478.9 435.1 1480.2 435.4 1481.6 435.8C1483.0 436.1 1484.3 436.5 1485.7 436.8C1487.0 437.1 1488.4 437.4 1489.8 437.7C1491.1 438.0 1492.5 438.3 1493.8 438.6C1495.2 438.9 1496.6 439.1 1497.9 439.6C1499.3 440.1 1500.7 440.7 1502.0 441.7C1503.4 442.7 1504.7 444.0 1506.1 445.6C1507.5 447.1 1508.8 449.0 1510.2 450.8C1511.5 452.7 1512.9 454.9 1514.3 456.9C1515.6 458.9 1517.0 461.1 1518.3 463.1C1519.7 465.1 1521.1 467.1 1522.4 468.8C1523.8 470.6 1525.2 472.1 1526.5 473.5C1527.9 474.8 1529.2 475.8 1530.6 476.8C1532.0 477.8 1533.3 478.5 1534.7 479.5C1536.0 480.4 1538.1 481.9 1538.8 482.3"/>
<path class="band" d="M1352.5 482.7C1353.2 482.2 1355.2 480.6 1356.6 479.5C1357.9 478.5 1359.3 477.4 1360.7 476.3C1362.0 475.3 1363.4 474.2 1364.7 473.2C1366.1 472.2 1367.4 471.2 1368.8 470.3C1370.1 469.3 1371.5 468.3 1372.9 467.4C1374.2 466.5 1375.6 465.7 1376.9 464.8C1378.3 464.0 1379.6 463.2 1381.0 462.5C1382.3 461.7 1383.7 461.0 1385.1 460.4C1386.4 459.7 1387.8 459.2 1389.1 458.6C1390.5 458.1 1391.8 457.6 1393.2 457.3C1394.5 456.9 1395.9 456.6 1397.3 456.3C1398.6 456.0 1400.0 455.9 1401.3 455.7C1402.7 455.6 1404.0 455.5 1405.4 455.5C1406.7 455.5 1408.1 455.5 1409.5 455.5C1410.8 455.6 1412.2 455.7 1413.5 455.8C1414.9 455.9 1416.2 456.1 1417.6 456.2C1418.9 456.4 1420.3 456.6 1421.7 456.7C1423.0 456.9 1424.4 457.1 1425.7 457.3C1427.1 457.5 1428.4 457.7 1429.8 457.9C1431.1 458.1 1432.5 458.2 1433.9 458.4C1435.2 458.5 1436.6 458.6 1437.9 458.7C1439.3 458.8 1440.6 458.9 1442.0 458.9C1443.4 458.9 1444.7 458.9 1446.1 458.8C1447.4 458.8 1448.8 458.7 1450.1 458.5C1451.5 458.4 1452.8 458.3 1454.2 458.1C1455.6 457.9 1456.9 457.8 1458.3 457.6C1459.6 457.4 1461.0 457.2 1462.3 457.0C1463.7 456.9 1465.0 456.7 1466.4 456.6C1467.8 456.4 1469.1 456.3 1470.5 456.2C1471.8 456.1 1473.2 456.0 1474.5 456.0C1475.9 456.0 1477.2 456.0 1478.6 456.1C1480.0 456.2 1481.3 456.3 1482.7 456.5C1484.0 456.7 1485.4 457.0 1486.7 457.3C1488.1 457.7 1489.4 458.1 1490.8 458.6C1492.2 459.1 1493.5 459.6 1494.9 460.3C1496.2 460.9 1497.6 461.6 1498.9 462.4C1500.3 463.1 1501.6 464.0 1503.0 464.8C1504.4 465.7 1505.7 466.6 1507.1 467.5C1508.4 468.4 1509.8 469.4 1511.1 470.4C1512.5 471.4 1513.8 472.4 1515.2 473.4C1516.6 474.5 1517.9 475.5 1519.3 476.5C1520.6 477.6 1522.0 478.6 1523.3 479.7C1524.7 480.7 1526.7 482.2 1527.4 482.7"/>
</g>
<line class="hs" x1="1443.3" y1="111.9" x2="1443.3" y2="482.6"/>
<line class="hs" x1="1628.6" y1="111.9" x2="1628.6" y2="482.6"/>
<rect class="fr" x="1229.5" y="109.2" width="506.2" height="372.4"/>
<line class="tk" x1="1222.0" y1="160.6" x2="1227.5" y2="160.6"/>
<line class="tk" x1="1222.0" y1="224.8" x2="1227.5" y2="224.8"/>
<line class="tk" x1="1222.0" y1="289.0" x2="1227.5" y2="289.0"/>
<line class="tk" x1="1222.0" y1="353.2" x2="1227.5" y2="353.2"/>
<line class="tk" x1="1222.0" y1="417.4" x2="1227.5" y2="417.4"/>
<line class="tk" x1="1225.5" y1="128.5" x2="1227.5" y2="128.5"/>
<line class="tk" x1="1225.5" y1="192.7" x2="1227.5" y2="192.7"/>
<line class="tk" x1="1225.5" y1="256.9" x2="1227.5" y2="256.9"/>
<line class="tk" x1="1225.5" y1="321.1" x2="1227.5" y2="321.1"/>
<line class="tk" x1="1225.5" y1="385.3" x2="1227.5" y2="385.3"/>
<line class="tk" x1="1225.5" y1="449.5" x2="1227.5" y2="449.5"/>
<line class="tk" x1="1222.0" y1="109.2" x2="1229.5" y2="109.2"/>
<line class="tk" x1="1222.0" y1="481.6" x2="1229.5" y2="481.6"/>
<text class="tl" transform="translate(1216.5 117.1) scale(1 1.075)">3.8</text>
<text class="tl" transform="translate(1216.5 168.5) scale(1 1.075)">3</text>
<text class="tl" transform="translate(1216.5 232.7) scale(1 1.075)">2</text>
<text class="tl" transform="translate(1216.5 296.9) scale(1 1.075)">1</text>
<text class="tl" transform="translate(1216.5 361.1) scale(1 1.075)">0</text>
<text class="tl" transform="translate(1216.5 425.3) scale(1 1.075)">-1</text>
<text class="tl" transform="translate(1216.5 489.5) scale(1 1.075)">-2</text>
<text font-size="33.2" text-anchor="middle" textLength="181.3" lengthAdjust="spacingAndGlyphs" transform="translate(1155.2 286.0) rotate(-90)">Energy (eV)</text>
<text class="kl" x="1227.9" y="529.2">K</text>
<text class="kl ser" x="1443.7" y="530" style="font-weight:normal;font-size:35px">Γ</text>
<text class="kl" x="1629.6" y="529.2">M</text>
<text class="kl" x="1736.0" y="529.2">K</text>
<text class="cap" x="1494.0" y="597.7">Zr-Sc-C-O-OCN</text>
<rect x="289.0" y="776.8" width="1262.8" height="34" fill="#000"/>
<rect x="289.0" y="810.8" width="1262.8" height="62" fill="#c5e0b4"/>
<rect x="289.0" y="872.7" width="1262.8" height="207" fill="#ff99cc"/>
<rect x="289.1" y="1079.5" width="1262.0" height="66.5" fill="#c5e0b4"/>
<rect x="289.0" y="1145.9" width="1262.8" height="28.5" fill="#000"/>
<rect x="268.0" y="872.7" width="21.9" height="209.5" fill="#000"/>
<rect x="1550.9" y="872.9" width="21.6" height="209.0" fill="#000"/>
<circle cx="233.5" cy="717" r="20.3" fill="none" stroke="#000" stroke-width="3"/>
<path d="M346.7 717H232.3V829" fill="none" stroke="#000" stroke-width="5" stroke-linejoin="miter"/>
<polygon points="362.3,717 346.2,708.9 346.2,725.1"/>
<polygon points="232.3,845 224.1,828.8 240.5,828.8"/>
<text x="186.6" y="688.8" font-size="42">Y</text>
<text x="319.8" y="688.8" font-size="42">X</text>
<text x="186.0" y="811" font-size="42">Z</text>
<line x1="353.4" y1="888" x2="353.4" y2="1064" stroke="#000" stroke-width="4.6"/>
<polygon points="353.4,873.4 345.4,889.2 361.4,889.2"/>
<polygon points="353.4,1079.2 345.4,1063.4 361.4,1063.4"/>
<line x1="305" y1="903.4" x2="1537" y2="903.4" stroke="#000" stroke-width="4.6"/>
<polygon points="290.3,903.4 306.2,895.4 306.2,911.4"/>
<polygon points="1551.2,903.4 1535.4,895.4 1535.4,911.4"/>
<text class="dl" x="919.8" y="757.9">top gate</text>
<text class="dl" x="922.6" y="1222.6">bottom gate</text>
<text class="dl" x="922" y="1053.5">channel</text>
<text font-size="35.1" x="1228.6" y="854.0">gate oxide</text>
<text font-size="35.1" x="1228.6" y="1125.3">gate oxide</text>
<text class="dl" transform="translate(246.1 975.4) rotate(-90)">source</text>
<text class="dl" transform="translate(1593.8 975) rotate(90)">drain</text>
<text class="ser" stroke="#000" stroke-width="0.5" transform="translate(898.3 935.0) scale(0.86 1)" font-size="31.8" font-style="italic">L</text>
<text class="ser" stroke="#000" stroke-width="0.5" transform="translate(916.0 941.8) scale(0.855 1)" font-size="23.3">CH</text>
<text class="ser" stroke="#000" stroke-width="0.5" transform="translate(367.7 986.8) scale(1.15 1)" font-size="34" font-style="italic">t</text>
<text class="ser" stroke="#000" stroke-width="0.5" transform="translate(380.8 993.1) scale(0.855 1)" font-size="23.3">CH</text>
</svg>
</body></html>
